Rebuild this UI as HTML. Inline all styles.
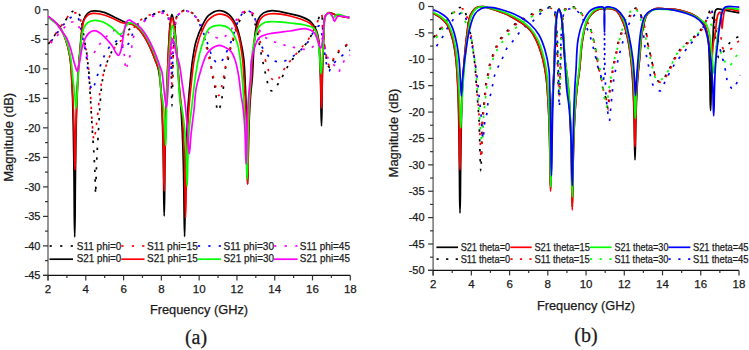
<!DOCTYPE html><html><head><meta charset="utf-8"><style>html,body{margin:0;padding:0;background:#fff;width:749px;height:350px;overflow:hidden}svg{display:block}</style></head><body><svg width="749" height="350" viewBox="0 0 749 350" font-family='"Liberation Sans", sans-serif' fill="#1a1a1a" stroke="#1a1a1a" stroke-width="0.25">
<rect width="749" height="350" fill="#fff" stroke="none"/>
<line x1="48" y1="9.8" x2="48" y2="280.4" stroke="#6a6a6a" stroke-width="1.4"/>
<line x1="43" y1="275.4" x2="350.3" y2="275.4" stroke="#111" stroke-width="1.3"/>
<line x1="43" y1="9.80" x2="48" y2="9.80" stroke="#333" stroke-width="1.2"/>
<text x="40.5" y="13.50" text-anchor="end" font-size="11">0</text>
<line x1="45" y1="24.56" x2="48" y2="24.56" stroke="#333" stroke-width="1.2"/>
<line x1="43" y1="39.31" x2="48" y2="39.31" stroke="#333" stroke-width="1.2"/>
<text x="40.5" y="43.01" text-anchor="end" font-size="11">-5</text>
<line x1="45" y1="54.07" x2="48" y2="54.07" stroke="#333" stroke-width="1.2"/>
<line x1="43" y1="68.82" x2="48" y2="68.82" stroke="#333" stroke-width="1.2"/>
<text x="40.5" y="72.52" text-anchor="end" font-size="11">-10</text>
<line x1="45" y1="83.58" x2="48" y2="83.58" stroke="#333" stroke-width="1.2"/>
<line x1="43" y1="98.33" x2="48" y2="98.33" stroke="#333" stroke-width="1.2"/>
<text x="40.5" y="102.03" text-anchor="end" font-size="11">-15</text>
<line x1="45" y1="113.09" x2="48" y2="113.09" stroke="#333" stroke-width="1.2"/>
<line x1="43" y1="127.84" x2="48" y2="127.84" stroke="#333" stroke-width="1.2"/>
<text x="40.5" y="131.54" text-anchor="end" font-size="11">-20</text>
<line x1="45" y1="142.60" x2="48" y2="142.60" stroke="#333" stroke-width="1.2"/>
<line x1="43" y1="157.36" x2="48" y2="157.36" stroke="#333" stroke-width="1.2"/>
<text x="40.5" y="161.06" text-anchor="end" font-size="11">-25</text>
<line x1="45" y1="172.11" x2="48" y2="172.11" stroke="#333" stroke-width="1.2"/>
<line x1="43" y1="186.87" x2="48" y2="186.87" stroke="#333" stroke-width="1.2"/>
<text x="40.5" y="190.57" text-anchor="end" font-size="11">-30</text>
<line x1="45" y1="201.62" x2="48" y2="201.62" stroke="#333" stroke-width="1.2"/>
<line x1="43" y1="216.38" x2="48" y2="216.38" stroke="#333" stroke-width="1.2"/>
<text x="40.5" y="220.08" text-anchor="end" font-size="11">-35</text>
<line x1="45" y1="231.13" x2="48" y2="231.13" stroke="#333" stroke-width="1.2"/>
<line x1="43" y1="245.89" x2="48" y2="245.89" stroke="#333" stroke-width="1.2"/>
<text x="40.5" y="249.59" text-anchor="end" font-size="11">-40</text>
<line x1="45" y1="260.64" x2="48" y2="260.64" stroke="#333" stroke-width="1.2"/>
<line x1="43" y1="275.40" x2="48" y2="275.40" stroke="#333" stroke-width="1.2"/>
<text x="40.5" y="279.10" text-anchor="end" font-size="11">-45</text>
<line x1="48.00" y1="275.4" x2="48.00" y2="280.4" stroke="#333" stroke-width="1.2"/>
<text x="48.00" y="292.5" text-anchor="middle" font-size="11.5">2</text>
<line x1="66.89" y1="275.4" x2="66.89" y2="277.9" stroke="#333" stroke-width="1.2"/>
<line x1="85.79" y1="275.4" x2="85.79" y2="280.4" stroke="#333" stroke-width="1.2"/>
<text x="85.79" y="292.5" text-anchor="middle" font-size="11.5">4</text>
<line x1="104.68" y1="275.4" x2="104.68" y2="277.9" stroke="#333" stroke-width="1.2"/>
<line x1="123.58" y1="275.4" x2="123.58" y2="280.4" stroke="#333" stroke-width="1.2"/>
<text x="123.58" y="292.5" text-anchor="middle" font-size="11.5">6</text>
<line x1="142.47" y1="275.4" x2="142.47" y2="277.9" stroke="#333" stroke-width="1.2"/>
<line x1="161.36" y1="275.4" x2="161.36" y2="280.4" stroke="#333" stroke-width="1.2"/>
<text x="161.36" y="292.5" text-anchor="middle" font-size="11.5">8</text>
<line x1="180.26" y1="275.4" x2="180.26" y2="277.9" stroke="#333" stroke-width="1.2"/>
<line x1="199.15" y1="275.4" x2="199.15" y2="280.4" stroke="#333" stroke-width="1.2"/>
<text x="199.15" y="292.5" text-anchor="middle" font-size="11.5">10</text>
<line x1="218.04" y1="275.4" x2="218.04" y2="277.9" stroke="#333" stroke-width="1.2"/>
<line x1="236.94" y1="275.4" x2="236.94" y2="280.4" stroke="#333" stroke-width="1.2"/>
<text x="236.94" y="292.5" text-anchor="middle" font-size="11.5">12</text>
<line x1="255.83" y1="275.4" x2="255.83" y2="277.9" stroke="#333" stroke-width="1.2"/>
<line x1="274.73" y1="275.4" x2="274.73" y2="280.4" stroke="#333" stroke-width="1.2"/>
<text x="274.73" y="292.5" text-anchor="middle" font-size="11.5">14</text>
<line x1="293.62" y1="275.4" x2="293.62" y2="277.9" stroke="#333" stroke-width="1.2"/>
<line x1="312.51" y1="275.4" x2="312.51" y2="280.4" stroke="#333" stroke-width="1.2"/>
<text x="312.51" y="292.5" text-anchor="middle" font-size="11.5">16</text>
<line x1="331.41" y1="275.4" x2="331.41" y2="277.9" stroke="#333" stroke-width="1.2"/>
<line x1="350.30" y1="275.4" x2="350.30" y2="280.4" stroke="#333" stroke-width="1.2"/>
<text x="350.30" y="292.5" text-anchor="middle" font-size="11.5">18</text>
<text transform="translate(12.7,137.3) rotate(-90)" text-anchor="middle" font-size="13">Magnitude (dB)</text>
<text x="199" y="314" text-anchor="middle" font-size="12.8">Frequency (GHz)</text>
<text x="196" y="344" text-anchor="middle" font-size="20" font-family="Liberation Serif, serif">(a)</text>
<line x1="433.1" y1="6.5" x2="433.1" y2="275.4" stroke="#6a6a6a" stroke-width="1.4"/>
<line x1="428.1" y1="270.4" x2="739" y2="270.4" stroke="#111" stroke-width="1.3"/>
<line x1="428.1" y1="6.50" x2="433.1" y2="6.50" stroke="#333" stroke-width="1.2"/>
<text x="424.6" y="10.20" text-anchor="end" font-size="11">0</text>
<line x1="430.1" y1="19.70" x2="433.1" y2="19.70" stroke="#333" stroke-width="1.2"/>
<line x1="428.1" y1="32.89" x2="433.1" y2="32.89" stroke="#333" stroke-width="1.2"/>
<text x="424.6" y="36.59" text-anchor="end" font-size="11">-5</text>
<line x1="430.1" y1="46.08" x2="433.1" y2="46.08" stroke="#333" stroke-width="1.2"/>
<line x1="428.1" y1="59.28" x2="433.1" y2="59.28" stroke="#333" stroke-width="1.2"/>
<text x="424.6" y="62.98" text-anchor="end" font-size="11">-10</text>
<line x1="430.1" y1="72.47" x2="433.1" y2="72.47" stroke="#333" stroke-width="1.2"/>
<line x1="428.1" y1="85.67" x2="433.1" y2="85.67" stroke="#333" stroke-width="1.2"/>
<text x="424.6" y="89.37" text-anchor="end" font-size="11">-15</text>
<line x1="430.1" y1="98.86" x2="433.1" y2="98.86" stroke="#333" stroke-width="1.2"/>
<line x1="428.1" y1="112.06" x2="433.1" y2="112.06" stroke="#333" stroke-width="1.2"/>
<text x="424.6" y="115.76" text-anchor="end" font-size="11">-20</text>
<line x1="430.1" y1="125.25" x2="433.1" y2="125.25" stroke="#333" stroke-width="1.2"/>
<line x1="428.1" y1="138.45" x2="433.1" y2="138.45" stroke="#333" stroke-width="1.2"/>
<text x="424.6" y="142.15" text-anchor="end" font-size="11">-25</text>
<line x1="430.1" y1="151.65" x2="433.1" y2="151.65" stroke="#333" stroke-width="1.2"/>
<line x1="428.1" y1="164.84" x2="433.1" y2="164.84" stroke="#333" stroke-width="1.2"/>
<text x="424.6" y="168.54" text-anchor="end" font-size="11">-30</text>
<line x1="430.1" y1="178.03" x2="433.1" y2="178.03" stroke="#333" stroke-width="1.2"/>
<line x1="428.1" y1="191.23" x2="433.1" y2="191.23" stroke="#333" stroke-width="1.2"/>
<text x="424.6" y="194.93" text-anchor="end" font-size="11">-35</text>
<line x1="430.1" y1="204.42" x2="433.1" y2="204.42" stroke="#333" stroke-width="1.2"/>
<line x1="428.1" y1="217.62" x2="433.1" y2="217.62" stroke="#333" stroke-width="1.2"/>
<text x="424.6" y="221.32" text-anchor="end" font-size="11">-40</text>
<line x1="430.1" y1="230.81" x2="433.1" y2="230.81" stroke="#333" stroke-width="1.2"/>
<line x1="428.1" y1="244.01" x2="433.1" y2="244.01" stroke="#333" stroke-width="1.2"/>
<text x="424.6" y="247.71" text-anchor="end" font-size="11">-45</text>
<line x1="430.1" y1="257.20" x2="433.1" y2="257.20" stroke="#333" stroke-width="1.2"/>
<line x1="428.1" y1="270.40" x2="433.1" y2="270.40" stroke="#333" stroke-width="1.2"/>
<text x="424.6" y="274.10" text-anchor="end" font-size="11">-50</text>
<line x1="433.10" y1="270.4" x2="433.10" y2="275.4" stroke="#333" stroke-width="1.2"/>
<text x="433.10" y="288" text-anchor="middle" font-size="11.5">2</text>
<line x1="452.22" y1="270.4" x2="452.22" y2="272.9" stroke="#333" stroke-width="1.2"/>
<line x1="471.34" y1="270.4" x2="471.34" y2="275.4" stroke="#333" stroke-width="1.2"/>
<text x="471.34" y="288" text-anchor="middle" font-size="11.5">4</text>
<line x1="490.46" y1="270.4" x2="490.46" y2="272.9" stroke="#333" stroke-width="1.2"/>
<line x1="509.58" y1="270.4" x2="509.58" y2="275.4" stroke="#333" stroke-width="1.2"/>
<text x="509.58" y="288" text-anchor="middle" font-size="11.5">6</text>
<line x1="528.69" y1="270.4" x2="528.69" y2="272.9" stroke="#333" stroke-width="1.2"/>
<line x1="547.81" y1="270.4" x2="547.81" y2="275.4" stroke="#333" stroke-width="1.2"/>
<text x="547.81" y="288" text-anchor="middle" font-size="11.5">8</text>
<line x1="566.93" y1="270.4" x2="566.93" y2="272.9" stroke="#333" stroke-width="1.2"/>
<line x1="586.05" y1="270.4" x2="586.05" y2="275.4" stroke="#333" stroke-width="1.2"/>
<text x="586.05" y="288" text-anchor="middle" font-size="11.5">10</text>
<line x1="605.17" y1="270.4" x2="605.17" y2="272.9" stroke="#333" stroke-width="1.2"/>
<line x1="624.29" y1="270.4" x2="624.29" y2="275.4" stroke="#333" stroke-width="1.2"/>
<text x="624.29" y="288" text-anchor="middle" font-size="11.5">12</text>
<line x1="643.41" y1="270.4" x2="643.41" y2="272.9" stroke="#333" stroke-width="1.2"/>
<line x1="662.52" y1="270.4" x2="662.52" y2="275.4" stroke="#333" stroke-width="1.2"/>
<text x="662.52" y="288" text-anchor="middle" font-size="11.5">14</text>
<line x1="681.64" y1="270.4" x2="681.64" y2="272.9" stroke="#333" stroke-width="1.2"/>
<line x1="700.76" y1="270.4" x2="700.76" y2="275.4" stroke="#333" stroke-width="1.2"/>
<text x="700.76" y="288" text-anchor="middle" font-size="11.5">16</text>
<line x1="719.88" y1="270.4" x2="719.88" y2="272.9" stroke="#333" stroke-width="1.2"/>
<line x1="739.00" y1="270.4" x2="739.00" y2="275.4" stroke="#333" stroke-width="1.2"/>
<text x="739.00" y="288" text-anchor="middle" font-size="11.5">18</text>
<text transform="translate(397.5,133) rotate(-90)" text-anchor="middle" font-size="13">Magnitude (dB)</text>
<text x="586" y="309.5" text-anchor="middle" font-size="12.8">Frequency (GHz)</text>
<text x="586" y="342" text-anchor="middle" font-size="20" font-family="Liberation Serif, serif">(b)</text>
<path d="M48.40,44.00 C50.13,41.67 51.92,39.44 53.60,37.00 C55.36,34.45 56.87,31.57 58.70,29.00 C60.53,26.44 62.75,24.11 64.60,21.60 C66.41,19.14 68.07,15.94 69.70,14.10 C70.83,12.82 71.79,11.76 73.00,11.20 C74.10,10.69 75.60,10.32 76.60,10.70 C77.61,11.08 78.32,12.29 79.00,13.50 C79.92,15.13 80.48,17.50 81.10,19.90 C81.86,22.86 82.47,26.63 83.00,30.00 C83.53,33.33 83.75,36.68 84.30,40.00 C84.85,43.34 85.78,46.63 86.30,50.00 C86.82,53.40 87.00,57.02 87.40,60.30 C87.77,63.30 88.22,65.13 88.60,68.90 C89.31,76.04 89.88,89.73 90.50,100.00 C91.11,110.09 91.69,120.46 92.30,130.00 C92.86,138.71 93.54,147.13 94.00,155.00 C94.42,162.04 94.73,168.42 95.00,175.00 C95.26,181.41 95.40,194.00 95.60,194.00 C95.80,194.00 95.97,181.41 96.20,175.00 C96.44,168.42 96.65,162.04 97.00,155.00 C97.39,147.13 98.00,138.33 98.50,130.00 C99.00,121.67 99.41,112.86 100.00,105.00 C100.53,97.96 101.11,90.67 101.80,85.00 C102.32,80.78 102.78,77.36 103.50,74.00 C104.12,71.10 104.79,68.76 105.70,66.00 C106.71,62.94 108.04,59.55 109.40,56.50 C110.71,53.55 112.06,50.69 113.70,48.00 C115.33,45.33 117.31,42.84 119.20,40.40 C121.05,38.01 122.89,35.60 124.90,33.50 C126.83,31.49 128.75,29.63 131.00,28.00 C133.34,26.31 136.03,25.31 138.70,23.60 C141.79,21.62 145.40,18.45 148.40,16.70 C150.75,15.33 152.67,14.54 155.00,13.60 C157.49,12.59 160.81,10.69 162.90,10.90 C164.37,11.05 165.52,11.79 166.50,13.00 C167.95,14.79 168.69,17.91 169.40,21.70 C170.65,28.37 170.41,38.97 170.80,50.00 C171.35,65.51 171.57,106.00 172.00,106.00 C172.41,106.00 172.68,69.47 173.30,55.00 C173.76,44.27 174.05,34.38 175.00,27.00 C175.63,22.11 175.93,17.56 177.40,14.90 C178.33,13.22 179.54,12.27 181.00,11.50 C182.57,10.68 184.69,10.06 186.60,10.30 C188.80,10.58 191.42,11.99 193.40,13.70 C195.64,15.63 197.49,18.83 199.00,21.70 C200.53,24.59 201.47,27.77 202.50,31.00 C203.58,34.39 204.33,38.28 205.30,41.60 C206.17,44.57 207.19,47.00 208.00,50.00 C208.91,53.35 209.65,56.73 210.40,60.80 C211.36,66.02 212.02,73.47 213.00,78.80 C213.79,83.11 214.89,85.96 215.60,90.40 C216.54,96.26 216.21,110.73 217.60,111.00 C218.40,111.15 219.91,107.37 220.70,105.00 C221.71,101.95 221.91,98.04 222.50,94.00 C223.22,89.08 224.02,82.60 224.60,77.60 C225.09,73.40 225.05,69.43 225.80,66.00 C226.42,63.13 227.60,61.15 228.40,58.30 C229.37,54.85 230.03,50.15 231.00,46.70 C231.80,43.85 232.77,41.60 233.60,39.00 C234.44,36.37 235.09,33.78 236.00,31.00 C237.00,27.93 238.21,24.25 239.40,21.40 C240.39,19.02 241.30,16.66 242.50,15.00 C243.43,13.71 244.49,12.56 245.60,12.00 C246.52,11.54 247.56,11.29 248.50,11.50 C249.57,11.74 250.75,12.55 251.60,13.70 C252.83,15.38 253.25,18.85 254.10,21.40 C254.95,23.94 255.93,26.02 256.70,29.00 C257.75,33.07 258.52,39.35 259.30,43.70 C259.92,47.18 260.38,49.97 261.00,53.10 C261.62,56.24 262.33,59.40 263.00,62.50 C263.66,65.53 264.32,68.43 265.00,71.50 C265.72,74.72 266.24,78.19 267.20,81.40 C268.15,84.56 269.08,89.69 270.70,90.60 C271.65,91.13 272.98,90.67 274.00,90.00 C275.50,89.01 276.78,85.92 278.00,84.00 C279.09,82.27 279.92,80.87 281.00,79.00 C282.35,76.66 283.96,73.67 285.40,71.00 C286.83,68.34 287.90,65.55 289.60,63.00 C291.37,60.34 293.90,57.80 295.90,55.40 C297.71,53.23 299.26,51.35 301.10,49.20 C303.13,46.83 305.73,44.45 307.60,41.80 C309.45,39.18 310.78,36.29 312.30,33.40 C313.88,30.40 315.64,27.15 316.90,24.10 C318.06,21.29 318.65,17.49 319.70,15.80 C320.27,14.89 321.03,13.83 321.50,14.00 C322.60,14.41 322.20,23.69 322.60,28.00 C322.94,31.70 323.25,34.53 323.70,38.30 C324.25,42.92 324.96,48.94 325.70,53.70 C326.34,57.85 326.57,62.95 327.80,65.30 C328.47,66.59 329.53,67.96 330.30,67.80 C331.48,67.56 332.20,62.50 333.40,60.10 C334.55,57.82 335.90,55.51 337.30,53.70 C338.49,52.16 339.61,51.14 341.10,49.80 C342.93,48.15 345.95,45.93 347.60,44.70 C348.58,43.97 349.20,43.57 350.00,43.00" fill="none" stroke="#000" stroke-width="1.7" stroke-dasharray="2.4 7.4" stroke-dashoffset="0"/>
<path d="M48.40,44.00 C50.13,41.67 51.92,39.44 53.60,37.00 C55.36,34.45 56.87,31.57 58.70,29.00 C60.53,26.44 62.75,24.11 64.60,21.60 C66.41,19.14 67.98,15.58 69.70,14.10 C70.79,13.16 71.82,12.61 73.00,12.50 C74.27,12.38 75.98,12.95 77.10,13.60 C78.10,14.18 78.88,14.88 79.50,16.00 C80.39,17.59 80.56,20.28 81.10,22.70 C81.73,25.54 82.46,28.92 83.00,32.00 C83.53,35.02 83.77,37.93 84.30,41.00 C84.86,44.25 85.78,47.72 86.30,51.00 C86.80,54.15 87.01,57.25 87.40,60.30 C87.78,63.25 88.21,65.32 88.60,69.00 C89.27,75.34 89.93,86.42 90.50,95.00 C91.06,103.41 91.37,112.14 92.00,120.00 C92.56,127.04 93.23,139.97 94.00,140.00 C94.60,140.02 95.37,132.29 96.00,128.00 C96.72,123.06 97.37,117.63 98.00,112.00 C98.71,105.71 99.10,98.28 100.00,92.00 C100.81,86.35 101.86,80.68 103.00,76.00 C103.91,72.25 104.91,69.23 106.00,66.00 C107.05,62.90 108.09,59.87 109.40,57.00 C110.67,54.21 112.08,51.47 113.70,49.00 C115.26,46.62 116.91,44.35 118.90,42.40 C120.90,40.44 123.60,39.25 125.70,37.30 C127.88,35.27 129.58,32.89 131.70,30.40 C134.15,27.52 136.73,23.49 139.50,21.00 C141.88,18.86 144.43,17.25 147.00,16.00 C149.37,14.85 151.75,14.33 154.30,13.60 C157.03,12.82 160.69,11.20 162.90,11.50 C164.41,11.70 165.52,12.33 166.50,13.50 C167.95,15.23 168.69,18.42 169.40,22.00 C170.53,27.74 170.40,36.28 170.80,45.00 C171.32,56.50 171.57,85.00 172.00,85.00 C172.40,85.00 172.72,60.44 173.30,50.00 C173.77,41.53 174.13,33.41 175.00,27.00 C175.64,22.33 175.90,17.53 177.40,15.00 C178.33,13.44 179.56,12.67 181.00,12.00 C182.58,11.26 184.68,10.77 186.60,11.00 C188.80,11.26 191.43,12.38 193.40,14.00 C195.66,15.85 197.50,19.07 199.00,22.00 C200.56,25.05 201.46,28.56 202.50,32.00 C203.57,35.56 204.27,38.89 205.30,43.00 C206.61,48.22 208.54,55.86 209.70,60.80 C210.52,64.30 210.94,66.46 211.70,69.80 C212.65,74.00 213.77,79.53 215.00,84.00 C216.12,88.09 217.50,95.60 218.70,95.60 C219.83,95.60 221.05,88.98 222.00,85.30 C223.06,81.18 223.81,76.12 224.60,72.00 C225.29,68.43 225.77,65.32 226.50,62.00 C227.24,58.66 228.09,55.32 229.00,52.00 C229.92,48.66 230.94,45.62 232.00,42.00 C233.25,37.73 234.75,32.27 236.00,28.00 C237.06,24.38 237.64,20.75 239.00,18.00 C240.10,15.78 241.47,13.66 243.00,12.50 C244.21,11.58 245.58,11.05 247.00,11.00 C248.57,10.95 250.61,11.36 252.00,12.50 C253.78,13.96 254.92,16.98 256.00,20.00 C257.45,24.06 258.12,30.38 259.00,35.00 C259.75,38.95 260.25,42.76 261.00,46.00 C261.61,48.61 262.24,50.53 263.00,53.00 C263.87,55.82 265.02,58.91 266.00,62.00 C267.03,65.24 267.91,68.99 269.00,72.00 C269.93,74.57 270.65,77.39 272.00,79.00 C273.03,80.22 274.55,81.53 275.70,81.40 C276.89,81.27 277.93,79.42 279.00,78.00 C280.39,76.15 281.63,73.22 283.00,71.00 C284.30,68.90 285.62,66.88 287.00,65.00 C288.30,63.23 289.58,61.74 291.00,60.00 C292.56,58.08 294.32,56.00 296.00,54.00 C297.69,52.00 299.29,50.11 301.10,48.00 C303.13,45.63 305.71,43.13 307.60,40.50 C309.43,37.96 310.78,35.27 312.30,32.50 C313.89,29.61 315.62,26.40 316.90,23.50 C318.04,20.92 318.65,17.48 319.70,16.00 C320.27,15.20 321.03,14.30 321.50,14.50 C322.63,14.97 322.21,23.81 322.60,28.00 C322.95,31.67 323.25,34.57 323.70,38.30 C324.24,42.77 324.94,48.58 325.70,53.00 C326.33,56.67 326.70,60.73 327.80,63.00 C328.48,64.41 329.51,66.11 330.30,66.00 C331.41,65.84 332.23,61.26 333.40,59.00 C334.56,56.76 335.90,54.34 337.30,52.50 C338.49,50.93 339.58,49.78 341.10,48.50 C342.91,46.98 345.94,45.16 347.60,44.20 C348.57,43.64 349.20,43.40 350.00,43.00" fill="none" stroke="#ff0000" stroke-width="1.7" stroke-dasharray="2.4 7.4" stroke-dashoffset="-2.4"/>
<path d="M48.40,45.00 C50.13,42.67 51.88,40.34 53.60,38.00 C55.31,35.67 56.84,33.46 58.70,31.00 C60.83,28.19 63.57,24.44 65.70,22.10 C67.24,20.40 68.47,19.00 70.00,18.00 C71.36,17.11 72.93,16.16 74.30,16.20 C75.59,16.24 77.08,16.93 78.00,18.00 C79.18,19.37 79.34,21.78 80.00,24.40 C81.02,28.44 81.96,35.01 83.00,40.00 C83.97,44.64 85.20,48.54 86.00,53.40 C86.94,59.07 87.24,66.49 88.00,72.00 C88.61,76.45 89.18,80.71 90.00,84.00 C90.59,86.37 91.26,89.95 92.00,90.00 C92.62,90.04 93.36,87.51 94.00,86.00 C94.78,84.14 95.46,81.94 96.20,79.60 C97.09,76.80 97.96,73.30 98.90,70.30 C99.80,67.44 100.63,64.75 101.70,62.00 C102.79,59.18 103.98,56.26 105.40,53.60 C106.79,51.00 108.48,48.17 110.10,46.20 C111.37,44.66 112.56,43.44 114.00,42.50 C115.37,41.60 117.27,40.24 118.50,40.60 C119.79,40.98 120.56,43.56 121.50,45.00 C122.39,46.36 123.20,48.99 124.00,49.00 C124.70,49.01 125.23,46.93 126.00,46.00 C126.79,45.06 127.84,44.66 128.70,43.40 C130.12,41.31 131.01,36.84 132.60,33.90 C134.13,31.06 136.02,28.23 138.00,26.00 C139.76,24.01 141.53,22.66 143.70,21.00 C146.28,19.03 149.41,16.60 152.60,15.10 C155.81,13.60 160.39,11.73 162.90,12.00 C164.45,12.17 165.52,12.81 166.50,14.00 C167.98,15.80 168.69,19.29 169.40,23.00 C170.48,28.67 170.39,37.10 170.80,45.00 C171.28,54.22 171.58,75.00 172.00,75.00 C172.42,75.00 172.70,53.72 173.30,45.00 C173.77,38.23 174.18,32.24 175.00,27.00 C175.64,22.86 176.00,18.52 177.40,16.00 C178.33,14.32 179.54,13.33 181.00,12.50 C182.57,11.61 184.68,10.79 186.60,11.00 C188.80,11.24 191.43,12.73 193.40,14.50 C195.67,16.54 197.42,20.12 199.00,23.00 C200.49,25.72 201.45,28.35 202.70,31.30 C204.11,34.63 205.48,38.05 207.00,42.00 C208.87,46.85 211.06,54.89 213.00,58.30 C214.02,60.09 214.85,61.14 216.00,62.00 C217.01,62.76 218.37,63.63 219.40,63.40 C220.56,63.14 221.57,61.35 222.50,60.00 C223.58,58.43 224.27,56.49 225.30,54.40 C226.61,51.76 228.42,48.47 229.70,45.40 C230.98,42.34 231.94,39.10 233.00,36.00 C234.04,32.97 234.97,29.90 236.00,27.00 C236.98,24.25 237.76,21.41 239.00,19.00 C240.13,16.78 241.47,14.35 243.00,13.00 C244.21,11.93 245.58,11.06 247.00,11.00 C248.56,10.94 250.62,11.67 252.00,13.00 C253.86,14.79 254.90,18.35 256.00,22.00 C257.56,27.16 257.88,36.95 259.30,41.40 C260.10,43.90 260.92,45.15 262.00,47.00 C263.16,48.99 264.56,50.90 266.10,52.90 C267.82,55.13 269.54,58.18 271.90,59.70 C274.17,61.16 277.23,62.00 279.90,62.00 C282.57,62.00 285.33,60.94 287.90,59.70 C290.69,58.36 293.38,55.95 295.90,54.00 C298.30,52.15 300.65,50.34 302.70,48.30 C304.67,46.33 306.43,44.31 308.00,42.00 C309.65,39.57 310.78,36.55 312.30,34.00 C313.76,31.56 315.35,28.22 316.90,27.00 C317.83,26.27 318.95,25.60 319.70,26.00 C321.03,26.71 321.30,31.51 322.00,35.00 C322.95,39.75 323.69,46.83 324.50,52.00 C325.18,56.35 325.66,60.53 326.50,64.00 C327.16,66.73 327.85,71.07 328.80,71.20 C329.58,71.30 330.53,68.45 331.50,67.00 C332.58,65.40 333.65,63.55 335.00,62.00 C336.40,60.40 338.05,59.10 339.80,57.60 C341.78,55.91 344.41,53.77 346.30,52.40 C347.68,51.41 348.77,50.80 350.00,50.00" fill="none" stroke="#0000ff" stroke-width="1.7" stroke-dasharray="2.4 7.4" stroke-dashoffset="-4.8"/>
<path d="M48.40,46.00 C50.13,44.00 51.88,42.00 53.60,40.00 C55.31,38.00 56.78,36.18 58.70,34.00 C61.09,31.28 64.62,26.99 66.90,25.00 C68.26,23.80 69.17,23.02 70.50,22.50 C71.84,21.98 73.70,21.50 74.90,21.90 C75.99,22.27 76.68,23.37 77.50,24.50 C78.62,26.04 79.72,28.36 80.60,30.60 C81.60,33.13 82.22,36.07 83.00,39.00 C83.85,42.18 84.60,45.92 85.50,49.00 C86.28,51.70 86.63,55.66 88.00,56.50 C88.90,57.05 90.27,56.68 91.40,56.00 C93.30,54.85 95.32,50.71 97.10,48.20 C98.73,45.89 99.90,43.68 101.70,41.50 C103.68,39.10 106.51,36.38 108.60,34.50 C110.18,33.08 111.38,31.68 113.00,31.00 C114.53,30.36 116.70,29.72 118.00,30.40 C119.46,31.16 120.19,33.71 121.00,36.00 C122.13,39.18 122.65,43.95 123.30,48.00 C123.96,52.11 124.49,56.63 124.90,60.50 C125.26,63.85 125.20,69.83 125.70,69.90 C125.99,69.94 126.42,68.09 126.80,67.00 C127.28,65.61 127.76,64.11 128.30,62.20 C129.08,59.42 130.14,55.47 130.90,51.90 C131.72,48.09 132.19,43.53 133.00,40.00 C133.66,37.11 134.03,34.43 135.20,32.20 C136.27,30.16 137.89,28.84 139.50,27.00 C141.42,24.81 143.39,21.94 146.00,20.00 C148.82,17.91 152.64,16.20 156.00,15.10 C159.11,14.08 163.24,12.64 165.40,13.40 C166.92,13.94 167.75,15.44 168.50,17.00 C169.48,19.05 169.59,21.91 170.00,25.00 C170.56,29.21 170.83,35.00 171.20,40.00 C171.57,45.00 171.85,55.00 172.20,55.00 C172.55,55.00 172.83,45.00 173.30,40.00 C173.77,35.00 174.18,29.34 175.00,25.00 C175.64,21.59 176.12,18.19 177.40,16.00 C178.34,14.39 179.54,13.33 181.00,12.50 C182.57,11.61 184.68,10.79 186.60,11.00 C188.80,11.24 191.38,12.91 193.40,14.50 C195.54,16.19 197.14,18.72 199.00,21.00 C200.97,23.41 202.77,26.24 204.90,28.60 C207.01,30.93 209.08,33.45 211.70,35.10 C214.37,36.77 218.05,38.80 220.80,38.50 C223.34,38.22 225.91,35.60 227.70,34.00 C229.12,32.73 229.94,31.63 231.00,30.00 C232.40,27.85 233.59,24.44 235.00,22.00 C236.27,19.81 237.58,17.74 239.00,16.00 C240.26,14.46 241.54,12.82 243.00,12.00 C244.24,11.30 245.61,10.91 247.00,11.00 C248.59,11.11 250.61,11.72 252.00,13.00 C253.79,14.65 254.72,18.16 256.00,21.00 C257.40,24.12 258.33,28.20 260.00,31.00 C261.42,33.39 263.12,35.42 265.00,37.00 C266.72,38.45 268.47,39.24 270.70,40.30 C273.58,41.67 277.64,43.14 281.00,44.20 C284.10,45.17 287.10,45.79 290.10,46.50 C293.00,47.19 295.72,47.95 298.70,48.40 C301.87,48.88 305.78,49.98 308.60,49.20 C311.11,48.50 313.24,46.73 315.00,44.60 C317.10,42.05 318.33,34.49 319.70,34.40 C320.54,34.34 321.28,36.44 322.00,38.00 C323.12,40.44 324.00,44.67 325.00,48.00 C326.00,51.33 326.50,55.21 328.00,58.00 C329.29,60.41 331.47,62.21 333.00,64.00 C334.26,65.48 335.54,66.64 336.50,68.00 C337.36,69.21 337.82,71.72 338.60,71.70 C339.71,71.67 341.10,66.38 342.40,64.00 C343.57,61.85 344.60,59.56 346.00,58.00 C347.19,56.68 348.67,56.00 350.00,55.00" fill="none" stroke="#ff00ff" stroke-width="1.7" stroke-dasharray="2.4 7.4" stroke-dashoffset="-3.6"/>
<path d="M48.40,17.00 C49.93,18.17 51.41,19.19 53.00,20.50 C54.83,22.01 56.91,23.27 58.70,25.60 C61.23,28.90 63.76,34.37 65.60,39.30 C67.57,44.58 68.83,49.69 69.90,56.40 C71.39,65.67 71.80,80.11 72.30,90.00 C72.69,97.81 72.74,104.00 72.92,111.00 C73.10,118.00 73.24,125.00 73.38,132.00 C73.51,139.00 73.62,146.00 73.72,153.00 C73.81,160.00 73.90,167.00 73.97,174.00 C74.04,181.00 74.10,188.00 74.16,195.00 C74.21,202.00 74.21,209.00 74.30,216.00 C74.39,223.00 74.56,237.00 74.70,237.00 C74.83,237.00 75.01,223.48 75.10,216.71 C75.19,209.95 75.18,203.19 75.24,196.43 C75.29,189.67 75.35,182.90 75.42,176.14 C75.49,169.38 75.57,162.62 75.66,155.86 C75.76,149.10 75.86,142.33 75.99,135.57 C76.11,128.81 76.25,122.05 76.42,115.29 C76.59,108.52 76.71,102.11 77.00,95.00 C77.32,87.10 77.76,77.86 78.30,70.00 C78.78,62.96 79.45,56.40 80.00,50.00 C80.51,44.10 80.84,38.28 81.50,33.00 C82.08,28.37 82.40,23.42 83.60,20.00 C84.47,17.52 85.62,15.50 87.00,14.00 C88.16,12.75 89.60,11.83 91.00,11.30 C92.28,10.82 93.37,10.76 95.00,10.80 C97.59,10.87 101.74,11.53 105.00,12.60 C108.41,13.72 111.96,16.04 115.00,17.50 C117.54,18.72 119.74,19.82 122.00,20.80 C124.06,21.70 126.07,22.59 128.00,23.20 C129.72,23.75 131.41,23.65 133.00,24.40 C134.76,25.23 136.42,26.66 138.00,28.20 C139.78,29.95 141.42,32.17 143.00,34.50 C144.77,37.11 146.49,40.26 148.00,43.20 C149.48,46.09 150.75,49.03 152.00,52.00 C153.25,54.97 154.41,58.01 155.50,61.00 C156.57,63.91 157.68,66.14 158.50,69.70 C159.73,75.00 160.43,83.43 161.00,90.00 C161.54,96.17 161.66,102.00 161.92,108.00 C162.18,114.00 162.39,120.00 162.57,126.00 C162.76,132.00 162.91,138.00 163.04,144.00 C163.17,150.00 163.28,156.00 163.37,162.00 C163.47,168.00 163.54,174.00 163.61,180.00 C163.68,186.00 163.68,192.00 163.78,198.00 C163.88,204.00 164.06,216.00 164.20,216.00 C164.34,216.00 164.52,203.52 164.61,197.29 C164.71,191.05 164.71,184.81 164.77,178.57 C164.83,172.33 164.90,166.10 164.98,159.86 C165.07,153.62 165.16,147.38 165.28,141.14 C165.39,134.90 165.52,128.67 165.68,122.43 C165.84,116.19 166.01,109.95 166.24,103.71 C166.46,97.48 166.70,92.21 167.00,85.00 C167.41,75.14 167.95,60.69 168.50,50.00 C168.96,40.97 169.22,31.57 170.00,25.00 C170.51,20.67 171.18,14.32 171.90,14.30 C172.59,14.28 173.52,19.82 174.20,24.00 C175.40,31.38 176.15,44.35 177.00,55.00 C177.90,66.31 178.63,79.83 179.40,90.00 C180.00,97.87 180.66,103.95 181.14,110.93 C181.62,117.90 181.98,124.88 182.30,131.86 C182.62,138.83 182.85,145.81 183.07,152.79 C183.28,159.76 183.44,166.74 183.58,173.71 C183.72,180.69 183.83,187.67 183.92,194.64 C184.02,201.62 184.04,208.60 184.15,215.57 C184.26,222.55 184.45,236.50 184.60,236.50 C184.75,236.50 184.94,221.62 185.06,214.19 C185.17,206.75 185.20,199.31 185.30,191.87 C185.40,184.43 185.51,176.99 185.66,169.56 C185.81,162.12 185.98,154.68 186.21,147.24 C186.45,139.80 186.70,132.36 187.06,124.93 C187.41,117.49 187.80,110.05 188.34,102.61 C188.88,95.17 189.57,87.59 190.30,80.30 C191.00,73.29 191.61,66.35 192.60,59.70 C193.54,53.40 194.30,47.26 196.00,41.40 C197.66,35.67 200.22,29.55 202.60,24.90 C204.49,21.20 205.89,17.78 208.60,15.40 C211.32,13.01 215.45,10.71 218.90,10.60 C222.29,10.49 226.30,12.35 229.10,14.60 C232.08,16.99 234.18,21.02 236.00,24.90 C238.01,29.19 239.07,34.21 240.30,39.40 C241.69,45.25 242.88,51.43 243.70,58.30 C244.67,66.41 244.92,77.50 245.30,85.00 C245.58,90.46 245.71,94.43 245.88,99.14 C246.05,103.86 246.19,108.57 246.31,113.29 C246.44,118.00 246.54,122.71 246.64,127.43 C246.73,132.14 246.81,136.86 246.88,141.57 C246.95,146.29 247.01,151.00 247.06,155.71 C247.12,160.43 247.11,165.14 247.20,169.86 C247.29,174.57 247.46,184.00 247.60,184.00 C247.74,184.00 247.93,173.91 248.04,168.86 C248.15,163.81 248.17,158.76 248.26,153.71 C248.35,148.67 248.44,143.62 248.58,138.57 C248.71,133.52 248.85,128.48 249.05,123.43 C249.24,118.38 249.45,113.33 249.74,108.29 C250.03,103.24 250.35,98.19 250.77,93.14 C251.20,88.09 251.89,83.38 252.30,78.00 C252.76,71.87 252.88,65.19 253.30,58.30 C253.76,50.69 253.97,41.38 255.00,34.30 C255.83,28.57 256.50,22.68 258.40,18.90 C259.75,16.22 261.40,14.28 263.60,12.90 C265.92,11.45 268.91,10.76 272.10,10.60 C276.13,10.40 281.21,11.94 285.90,12.90 C290.86,13.92 296.74,14.97 301.10,16.60 C304.67,17.93 307.90,19.18 310.40,21.40 C312.84,23.57 314.61,26.59 316.00,29.70 C317.49,33.04 318.21,37.06 318.80,40.90 C319.41,44.84 319.32,49.00 319.53,53.06 C319.74,57.11 319.91,61.16 320.06,65.21 C320.21,69.27 320.34,73.32 320.45,77.37 C320.56,81.42 320.65,85.48 320.73,89.53 C320.81,93.58 320.88,97.63 320.94,101.69 C321.00,105.74 321.00,109.79 321.09,113.84 C321.18,117.90 321.37,126.00 321.50,126.00 C321.64,126.00 321.81,117.33 321.90,113.00 C321.99,108.67 321.98,104.33 322.04,100.00 C322.09,95.67 322.15,91.33 322.22,87.00 C322.29,82.67 322.37,78.33 322.46,74.00 C322.56,69.67 322.66,65.33 322.79,61.00 C322.91,56.67 323.05,52.33 323.22,48.00 C323.39,43.67 323.51,39.74 323.80,35.00 C324.15,29.26 323.54,19.61 325.30,16.00 C326.20,14.15 327.36,12.94 329.00,12.60 C331.30,12.12 335.03,14.98 338.30,15.80 C341.80,16.68 345.70,17.00 349.40,17.60" fill="none" stroke="#000" stroke-width="1.7" stroke-linejoin="round"/>
<path d="M48.40,17.00 C49.93,18.17 51.42,19.17 53.00,20.50 C54.84,22.04 56.91,23.41 58.70,25.80 C61.22,29.16 63.76,34.64 65.60,39.60 C67.57,44.92 68.83,50.08 69.90,56.80 C71.37,66.01 71.74,81.81 72.30,90.00 C72.63,94.80 72.82,97.62 73.03,101.43 C73.24,105.24 73.41,109.05 73.56,112.86 C73.71,116.67 73.84,120.48 73.95,124.29 C74.06,128.09 74.15,131.90 74.23,135.71 C74.31,139.52 74.38,143.33 74.44,147.14 C74.50,150.95 74.50,154.76 74.59,158.57 C74.68,162.38 74.86,170.00 75.00,170.00 C75.13,170.00 75.31,162.86 75.40,159.29 C75.49,155.71 75.48,152.14 75.53,148.57 C75.58,145.00 75.64,141.43 75.70,137.86 C75.77,134.29 75.85,130.71 75.94,127.14 C76.03,123.57 76.13,120.00 76.25,116.43 C76.36,112.86 76.50,109.29 76.66,105.71 C76.81,102.14 76.98,99.32 77.20,95.00 C77.54,88.41 77.96,77.86 78.50,70.00 C78.98,62.96 79.65,56.40 80.20,50.00 C80.71,44.10 81.02,38.16 81.70,33.00 C82.27,28.64 82.61,24.05 83.80,21.00 C84.63,18.87 85.70,17.26 87.00,16.00 C88.15,14.88 89.61,14.02 91.00,13.60 C92.29,13.21 93.37,13.30 95.00,13.40 C97.59,13.57 101.72,14.21 105.00,15.20 C108.39,16.22 112.11,18.16 115.00,19.50 C117.27,20.56 119.05,21.83 121.00,22.50 C122.70,23.08 124.54,23.33 126.00,23.50 C127.12,23.63 127.92,23.42 129.00,23.60 C130.32,23.82 131.87,24.18 133.30,24.90 C134.98,25.74 136.73,27.08 138.30,28.60 C140.09,30.33 141.72,32.57 143.30,34.90 C145.07,37.51 146.79,40.66 148.30,43.60 C149.78,46.49 151.05,49.43 152.30,52.40 C153.55,55.37 154.71,58.41 155.80,61.40 C156.87,64.31 158.00,66.55 158.80,70.10 C159.98,75.33 160.47,83.89 161.00,90.00 C161.45,95.19 161.66,99.62 161.92,104.43 C162.18,109.24 162.39,114.05 162.57,118.86 C162.76,123.67 162.91,128.48 163.04,133.29 C163.17,138.09 163.28,142.90 163.37,147.71 C163.47,152.52 163.54,157.33 163.61,162.14 C163.68,166.95 163.68,171.76 163.78,176.57 C163.88,181.38 164.06,191.00 164.20,191.00 C164.34,191.00 164.52,180.91 164.61,175.86 C164.71,170.81 164.71,165.76 164.77,160.71 C164.83,155.67 164.90,150.62 164.98,145.57 C165.07,140.52 165.16,135.48 165.28,130.43 C165.39,125.38 165.52,120.33 165.68,115.29 C165.84,110.24 166.01,105.19 166.24,100.14 C166.46,95.09 166.72,91.09 167.00,85.00 C167.43,75.74 167.93,60.32 168.50,50.00 C168.95,41.82 169.25,33.94 170.00,28.00 C170.52,23.91 171.16,17.73 171.90,17.70 C172.58,17.67 173.52,22.36 174.20,26.00 C175.44,32.70 176.14,44.87 177.00,55.00 C177.95,66.11 178.68,80.23 179.60,90.00 C180.27,97.07 181.11,102.15 181.69,108.23 C182.26,114.30 182.68,120.38 183.05,126.46 C183.43,132.53 183.69,138.61 183.94,144.69 C184.18,150.76 184.36,156.84 184.52,162.91 C184.68,168.99 184.79,175.07 184.89,181.14 C185.00,187.22 185.02,193.30 185.14,199.37 C185.26,205.45 185.45,217.60 185.60,217.60 C185.75,217.60 185.94,205.26 186.05,199.09 C186.16,192.91 186.18,186.74 186.28,180.57 C186.37,174.40 186.48,168.23 186.62,162.06 C186.76,155.89 186.92,149.71 187.13,143.54 C187.35,137.37 187.58,131.20 187.90,125.03 C188.22,118.86 188.58,112.68 189.06,106.51 C189.54,100.34 190.07,94.82 190.80,88.00 C191.70,79.56 192.76,68.08 194.20,59.70 C195.37,52.91 196.83,46.45 198.30,41.40 C199.38,37.71 200.20,35.28 201.70,32.00 C203.48,28.11 205.53,22.73 208.60,19.70 C211.40,16.94 215.34,14.39 218.90,14.10 C222.47,13.81 227.00,15.41 230.00,18.00 C233.55,21.06 235.71,26.87 237.70,32.60 C240.21,39.81 241.37,49.39 242.50,58.30 C243.70,67.81 243.97,79.98 244.50,88.00 C244.86,93.46 245.13,97.17 245.38,101.76 C245.63,106.34 245.83,110.93 246.01,115.51 C246.19,120.10 246.33,124.69 246.46,129.27 C246.59,133.86 246.69,138.44 246.78,143.03 C246.88,147.61 246.95,152.20 247.02,156.79 C247.08,161.37 247.08,165.96 247.18,170.54 C247.28,175.13 247.46,184.30 247.60,184.30 C247.75,184.30 247.93,174.18 248.03,169.11 C248.14,164.05 248.15,158.99 248.22,153.93 C248.30,148.87 248.39,143.80 248.50,138.74 C248.61,133.68 248.74,128.62 248.90,123.56 C249.06,118.49 249.24,113.43 249.47,108.37 C249.71,103.31 249.97,98.25 250.30,93.19 C250.64,88.12 251.16,83.39 251.50,78.00 C251.88,71.86 251.77,65.29 252.40,58.30 C253.13,50.29 254.30,39.68 255.90,32.60 C257.07,27.44 258.08,22.53 260.10,19.50 C261.52,17.37 263.19,16.07 265.30,15.10 C267.69,14.00 270.58,13.73 273.90,13.70 C278.43,13.66 285.17,14.94 290.00,16.00 C294.08,16.89 297.61,18.00 301.10,19.30 C304.38,20.52 307.89,21.48 310.40,23.50 C312.81,25.43 314.62,28.11 316.00,31.00 C317.52,34.19 318.22,38.45 318.80,42.00 C319.33,45.24 319.32,48.28 319.53,51.43 C319.74,54.57 319.91,57.71 320.06,60.86 C320.21,64.00 320.34,67.14 320.45,70.29 C320.56,73.43 320.65,76.57 320.73,79.71 C320.81,82.86 320.88,86.00 320.94,89.14 C321.00,92.29 321.00,95.43 321.09,98.57 C321.18,101.71 321.37,108.00 321.50,108.00 C321.64,108.00 321.81,101.05 321.90,97.57 C321.99,94.10 321.98,90.62 322.04,87.14 C322.09,83.67 322.15,80.19 322.22,76.71 C322.29,73.24 322.37,69.76 322.46,66.29 C322.56,62.81 322.66,59.33 322.79,55.86 C322.91,52.38 323.05,48.90 323.22,45.43 C323.39,41.95 323.53,38.97 323.80,35.00 C324.16,29.71 323.58,20.08 325.30,16.50 C326.20,14.62 327.35,13.37 329.00,13.00 C331.29,12.48 335.03,15.24 338.30,16.00 C341.80,16.81 345.70,17.07 349.40,17.60" fill="none" stroke="#ff0000" stroke-width="1.7" stroke-linejoin="round"/>
<path d="M48.40,17.30 C49.93,18.53 51.39,19.62 53.00,21.00 C54.89,22.63 57.12,24.05 59.00,26.50 C61.56,29.85 64.12,35.13 66.00,40.00 C68.02,45.24 69.36,50.86 70.50,57.00 C71.81,64.04 72.22,73.15 73.00,80.00 C73.63,85.53 74.31,90.12 74.80,95.00 C75.27,99.64 75.53,108.60 75.90,108.60 C76.27,108.60 76.63,100.22 77.00,95.00 C77.50,87.93 77.91,77.86 78.50,70.00 C79.03,62.96 79.67,56.18 80.30,50.00 C80.85,44.64 81.17,39.19 82.00,35.00 C82.62,31.89 83.15,29.19 84.30,27.00 C85.26,25.17 86.38,23.59 88.00,22.50 C89.77,21.30 92.33,20.53 94.70,20.40 C97.30,20.25 100.42,21.05 103.00,22.00 C105.52,22.93 107.82,24.49 110.00,26.00 C112.15,27.49 114.21,29.47 116.00,31.00 C117.48,32.26 118.76,34.49 120.00,34.50 C121.07,34.51 122.10,33.13 123.00,32.00 C124.18,30.51 124.80,27.59 126.00,26.00 C127.00,24.68 128.11,23.25 129.40,22.90 C130.65,22.56 132.19,23.21 133.60,23.80 C135.26,24.50 137.02,25.72 138.60,27.10 C140.38,28.65 142.02,30.65 143.60,32.80 C145.38,35.22 147.09,38.20 148.60,41.00 C150.09,43.77 151.35,46.64 152.60,49.50 C153.85,52.34 155.01,55.24 156.10,58.10 C157.17,60.90 158.33,62.88 159.10,66.50 C160.40,72.64 160.18,86.00 161.00,92.00 C161.45,95.31 162.10,97.09 162.53,99.64 C162.95,102.18 163.27,104.73 163.56,107.29 C163.85,109.83 164.06,112.38 164.25,114.93 C164.45,117.47 164.59,120.02 164.72,122.57 C164.86,125.12 164.95,127.67 165.04,130.21 C165.13,132.76 165.15,135.31 165.26,137.86 C165.37,140.41 165.57,145.50 165.70,145.50 C165.87,145.50 166.02,137.36 166.12,133.29 C166.22,129.21 166.23,125.14 166.30,121.07 C166.36,117.00 166.44,112.93 166.54,108.86 C166.64,104.79 166.74,100.71 166.88,96.64 C167.02,92.57 167.17,88.50 167.36,84.43 C167.56,80.36 167.77,76.28 168.04,72.21 C168.32,68.14 168.67,64.75 169.00,60.00 C169.47,53.34 169.80,42.45 170.50,36.00 C170.97,31.61 171.45,25.06 172.20,25.00 C172.81,24.95 173.75,28.84 174.40,32.00 C175.68,38.18 176.43,49.83 177.30,60.00 C178.34,72.14 178.69,90.52 180.00,100.00 C180.73,105.31 181.88,108.20 182.58,112.31 C183.28,116.41 183.78,120.52 184.22,124.63 C184.67,128.73 184.99,132.84 185.27,136.94 C185.56,141.05 185.75,145.15 185.94,149.26 C186.12,153.36 186.24,157.47 186.36,161.57 C186.47,165.68 186.51,169.78 186.63,173.89 C186.75,177.99 186.94,186.20 187.10,186.20 C187.25,186.20 187.43,178.94 187.54,175.31 C187.65,171.69 187.66,168.06 187.74,164.43 C187.83,160.80 187.92,157.17 188.04,153.54 C188.16,149.91 188.30,146.28 188.47,142.66 C188.65,139.03 188.85,135.40 189.11,131.77 C189.37,128.14 189.66,124.51 190.04,120.89 C190.42,117.25 190.85,114.52 191.40,110.00 C192.31,102.53 193.63,89.28 194.90,80.30 C195.96,72.79 197.03,65.85 198.30,59.70 C199.34,54.65 200.59,49.70 201.70,46.00 C202.48,43.41 203.05,41.90 204.00,39.50 C205.22,36.42 206.07,31.45 208.60,29.10 C211.08,26.79 215.46,25.52 218.90,25.40 C222.29,25.28 226.27,26.08 229.10,28.30 C232.55,31.01 235.05,36.95 236.90,42.00 C238.90,47.44 239.39,53.68 240.30,60.00 C241.30,66.95 241.84,74.09 242.50,82.00 C243.27,91.22 244.00,104.77 244.50,112.00 C244.78,116.09 244.99,118.41 245.19,121.61 C245.39,124.82 245.55,128.02 245.70,131.23 C245.84,134.43 245.96,137.64 246.07,140.84 C246.18,144.05 246.26,147.25 246.34,150.46 C246.42,153.66 246.49,156.87 246.54,160.07 C246.60,163.28 246.60,166.48 246.69,169.69 C246.78,172.89 246.97,179.30 247.10,179.30 C247.25,179.30 247.43,169.84 247.53,165.11 C247.63,160.39 247.63,155.66 247.71,150.93 C247.78,146.20 247.86,141.47 247.96,136.74 C248.06,132.01 248.18,127.29 248.32,122.56 C248.47,117.83 248.63,113.10 248.83,108.37 C249.04,103.64 249.27,98.91 249.56,94.19 C249.86,89.46 250.29,85.23 250.60,80.00 C250.98,73.53 250.85,65.42 251.60,58.30 C252.33,51.32 253.61,43.34 255.00,37.70 C256.00,33.63 256.50,30.03 258.40,27.40 C260.09,25.06 262.50,23.27 265.30,22.30 C268.61,21.15 273.25,21.79 277.30,21.90 C281.48,22.01 285.60,22.51 290.00,23.00 C294.77,23.53 300.58,23.90 304.90,25.00 C308.39,25.89 312.00,26.36 314.10,28.50 C316.23,30.67 316.64,34.32 317.50,38.00 C318.62,42.79 318.93,49.17 319.50,55.00 C320.10,61.15 320.48,74.00 321.00,74.00 C321.52,74.00 322.13,61.77 322.60,55.00 C323.14,47.24 323.46,36.98 324.00,30.00 C324.39,24.96 323.97,19.95 325.30,17.00 C326.16,15.09 327.69,13.03 329.00,13.00 C330.44,12.97 332.17,17.57 333.60,17.60 C334.80,17.63 335.36,14.91 337.00,14.50 C339.73,13.81 345.27,16.57 349.40,17.60" fill="none" stroke="#00ff00" stroke-width="1.7" stroke-linejoin="round"/>
<path d="M48.40,16.50 C50.70,18.37 53.24,19.92 55.30,22.10 C57.46,24.39 59.07,27.24 61.00,30.00 C63.07,32.96 65.63,35.97 67.30,39.30 C68.97,42.64 69.95,46.47 71.00,50.00 C72.00,53.37 72.69,56.97 73.50,60.00 C74.18,62.55 74.80,64.94 75.50,67.00 C76.07,68.68 76.82,71.52 77.30,71.50 C77.72,71.48 77.95,69.41 78.30,68.00 C78.83,65.88 79.44,62.94 80.00,60.00 C80.68,56.41 81.09,51.68 82.00,48.00 C82.81,44.75 83.72,41.62 85.00,39.00 C86.12,36.71 87.33,34.40 89.00,33.00 C90.50,31.75 92.50,30.72 94.30,30.70 C96.16,30.68 98.04,31.72 100.00,33.00 C102.74,34.79 106.28,38.81 108.60,41.40 C110.39,43.39 111.75,45.03 113.00,47.00 C114.21,48.91 114.90,51.50 116.00,53.00 C116.81,54.10 117.84,55.65 118.60,55.50 C119.58,55.30 120.31,52.34 121.00,50.00 C122.10,46.28 122.66,39.61 123.50,35.00 C124.23,31.04 124.78,26.57 125.70,24.00 C126.24,22.49 126.71,21.21 127.50,20.60 C128.09,20.14 128.90,20.00 129.60,20.10 C130.40,20.22 131.24,21.03 132.00,21.50 C132.70,21.93 133.18,22.27 134.00,22.80 C135.29,23.65 137.42,24.71 139.00,26.10 C140.78,27.67 142.42,29.73 144.00,31.90 C145.77,34.33 147.48,37.33 149.00,40.10 C150.48,42.80 151.75,45.52 153.00,48.30 C154.25,51.09 155.40,53.98 156.50,56.80 C157.57,59.55 158.56,62.32 159.50,65.00 C160.39,67.55 161.36,69.65 162.00,72.50 C162.81,76.10 162.91,80.22 163.50,85.00 C164.30,91.45 165.59,107.72 166.40,107.70 C167.29,107.68 167.89,89.00 168.50,80.00 C169.08,71.46 169.39,61.98 170.00,55.00 C170.44,49.96 170.89,44.82 171.50,42.00 C171.81,40.59 172.09,38.93 172.50,38.90 C172.92,38.87 173.53,40.57 174.00,42.00 C174.93,44.81 175.52,51.09 176.50,55.00 C177.33,58.30 178.49,60.45 179.30,64.00 C180.43,68.94 181.09,75.77 182.00,82.00 C182.99,88.73 184.12,95.55 185.00,103.00 C185.99,111.42 186.77,121.26 187.50,130.00 C188.19,138.23 188.68,154.00 189.30,154.00 C189.85,154.00 190.36,141.15 191.00,135.00 C191.60,129.17 192.42,122.92 193.00,118.00 C193.45,114.23 193.78,111.85 194.20,108.00 C194.77,102.76 194.94,95.54 196.00,89.40 C197.07,83.21 199.19,76.03 200.60,71.00 C201.59,67.45 202.39,64.79 203.40,62.00 C204.31,59.50 205.13,57.07 206.30,55.00 C207.36,53.12 208.28,51.46 210.00,50.00 C212.18,48.14 216.30,45.67 218.90,45.40 C220.79,45.20 222.24,46.00 224.00,46.80 C226.20,47.81 229.08,49.32 230.90,51.40 C232.85,53.64 233.92,56.66 235.10,60.00 C236.59,64.24 237.56,69.62 238.50,75.00 C239.58,81.16 240.19,89.50 241.00,95.00 C241.58,98.88 242.23,101.59 242.70,104.90 C243.17,108.19 243.52,111.50 243.83,114.80 C244.14,118.10 244.38,121.40 244.59,124.70 C244.80,128.00 244.95,131.30 245.09,134.60 C245.23,137.90 245.33,141.20 245.43,144.50 C245.52,147.80 245.54,151.10 245.65,154.40 C245.76,157.70 245.96,164.30 246.10,164.30 C246.26,164.30 246.43,156.27 246.54,152.26 C246.64,148.24 246.66,144.23 246.74,140.21 C246.82,136.20 246.91,132.19 247.03,128.17 C247.15,124.16 247.28,120.14 247.46,116.13 C247.63,112.11 247.82,108.10 248.08,104.09 C248.33,100.07 248.61,96.05 248.98,92.04 C249.35,88.03 249.91,84.53 250.30,80.00 C250.81,74.18 250.67,66.00 251.60,60.00 C252.38,54.96 253.54,50.27 255.00,46.30 C256.21,43.03 257.19,39.71 259.30,37.70 C261.27,35.82 263.66,35.26 267.00,34.30 C272.54,32.71 282.94,31.97 290.00,31.00 C296.01,30.17 302.34,28.07 306.70,28.80 C309.76,29.31 312.30,30.63 314.10,32.50 C315.90,34.37 316.57,37.62 317.50,40.00 C318.32,42.09 318.75,44.58 319.50,46.00 C319.97,46.89 320.57,48.10 321.00,48.00 C321.77,47.83 322.15,43.10 322.60,40.00 C323.22,35.79 323.48,29.36 324.00,25.00 C324.40,21.61 324.13,18.06 325.30,16.00 C326.15,14.51 327.83,12.99 329.00,13.00 C330.06,13.01 331.14,14.36 332.00,15.50 C333.10,16.96 333.71,21.36 334.60,21.40 C335.38,21.43 335.94,17.88 337.00,17.00 C337.84,16.30 338.71,16.10 340.00,16.00 C342.25,15.83 346.27,17.07 349.40,17.60" fill="none" stroke="#ff00ff" stroke-width="1.7" stroke-linejoin="round"/>
<path d="M433.50,37.50 C435.20,35.33 436.94,33.27 438.60,31.00 C440.34,28.62 441.88,25.97 443.70,23.50 C445.57,20.96 447.99,18.10 449.70,16.00 C450.96,14.45 451.82,13.19 453.00,12.00 C454.12,10.87 455.36,9.77 456.60,9.00 C457.70,8.32 458.89,7.59 460.00,7.50 C461.02,7.42 462.09,7.53 463.00,8.30 C464.59,9.66 465.89,14.00 466.90,17.10 C467.95,20.35 468.39,24.04 469.10,27.40 C469.78,30.63 470.49,33.47 471.10,36.90 C471.81,40.91 472.38,45.41 473.00,50.00 C473.68,55.06 474.45,60.36 475.00,66.00 C475.61,72.29 475.90,79.33 476.40,86.00 C476.90,92.67 477.54,99.93 478.00,106.00 C478.38,111.08 478.67,113.87 479.00,120.00 C479.62,131.69 480.23,171.00 480.80,171.00 C481.37,171.00 481.62,132.44 482.40,120.00 C482.85,112.81 483.52,107.92 484.00,103.00 C484.37,99.23 484.67,96.33 485.00,93.00 C485.33,89.67 485.50,86.32 486.00,83.00 C486.50,79.65 487.33,76.33 488.00,73.00 C488.67,69.67 489.08,66.30 490.00,63.00 C490.94,59.63 492.50,55.90 493.60,53.00 C494.46,50.74 494.97,49.17 496.00,47.00 C497.30,44.27 499.02,40.81 501.00,38.00 C503.01,35.14 505.58,32.40 508.00,30.00 C510.26,27.77 512.62,25.86 515.00,24.00 C517.29,22.20 519.53,20.49 522.00,19.00 C524.52,17.48 527.33,16.33 530.00,15.00 C532.67,13.67 535.31,12.24 538.00,11.00 C540.65,9.78 543.76,8.23 546.00,7.60 C547.53,7.17 548.76,6.59 550.00,7.00 C551.47,7.48 553.08,9.21 554.00,11.00 C555.17,13.27 555.08,16.11 555.50,20.00 C556.26,27.06 556.48,38.99 557.00,50.00 C557.64,63.48 558.33,95.00 559.00,95.00 C559.67,95.00 560.37,63.72 561.00,50.00 C561.53,38.43 561.32,25.35 562.50,18.00 C563.14,14.03 563.52,10.80 565.00,9.00 C566.02,7.76 567.49,7.29 569.00,7.00 C570.76,6.66 573.32,6.86 575.00,7.50 C576.48,8.07 577.41,9.07 578.70,10.30 C580.49,12.00 582.70,14.66 584.40,17.10 C586.14,19.59 587.70,22.19 589.00,25.10 C590.41,28.25 591.45,31.94 592.40,35.40 C593.34,38.81 594.01,42.42 594.70,45.70 C595.33,48.69 595.89,51.22 596.40,54.30 C596.98,57.82 597.15,62.05 597.90,65.70 C598.61,69.17 599.99,72.47 600.70,75.70 C601.35,78.66 601.59,81.58 602.10,84.30 C602.56,86.79 602.94,88.94 603.60,91.40 C604.34,94.15 605.68,97.11 606.40,100.00 C607.11,102.84 607.46,108.62 607.90,108.60 C608.48,108.58 608.75,97.96 609.30,93.00 C609.80,88.46 610.47,83.68 611.00,80.00 C611.39,77.28 611.69,75.38 612.10,72.90 C612.55,70.17 612.98,67.45 613.60,64.30 C614.36,60.43 615.64,55.26 616.40,51.40 C617.01,48.28 617.20,45.72 617.90,42.90 C618.62,40.02 619.65,37.21 620.70,34.30 C621.80,31.24 622.91,28.10 624.40,25.00 C626.00,21.67 628.05,17.96 630.10,15.00 C631.92,12.37 634.14,8.00 635.90,8.00 C637.39,8.00 638.88,10.97 640.00,13.00 C641.36,15.46 642.02,18.91 643.00,22.00 C644.03,25.24 645.19,28.42 646.00,32.00 C646.91,36.02 647.13,40.61 648.00,45.00 C648.91,49.58 650.42,54.49 651.40,58.90 C652.29,62.88 652.73,66.62 653.70,70.30 C654.64,73.85 655.23,79.25 657.10,80.60 C658.32,81.48 660.22,81.39 661.70,80.60 C664.14,79.30 666.34,74.19 668.60,70.30 C671.32,65.63 673.99,58.49 676.60,54.30 C678.46,51.32 680.07,49.27 682.10,47.10 C684.08,44.98 686.57,43.16 688.60,41.40 C690.37,39.86 692.10,38.49 693.60,37.10 C694.90,35.90 695.85,34.93 697.10,33.60 C698.64,31.95 700.55,30.13 702.10,27.90 C703.93,25.26 705.71,21.64 707.10,18.60 C708.36,15.85 709.24,10.46 710.20,10.50 C711.22,10.54 712.17,16.14 713.00,20.00 C714.24,25.78 714.91,35.27 716.00,42.00 C716.93,47.74 717.32,57.52 719.00,57.90 C720.13,58.15 721.79,54.15 723.30,52.00 C725.09,49.46 726.79,45.99 729.00,43.60 C731.09,41.33 734.02,39.22 736.10,37.90 C737.54,36.99 738.70,36.63 740.00,36.00" fill="none" stroke="#000" stroke-width="1.7" stroke-dasharray="2.4 7.4" stroke-dashoffset="0"/>
<path d="M433.90,38.50 C435.60,36.33 437.34,34.27 439.00,32.00 C440.74,29.62 442.28,26.97 444.10,24.50 C445.97,21.96 448.39,19.10 450.10,17.00 C451.36,15.45 452.22,14.19 453.40,13.00 C454.52,11.87 455.76,10.77 457.00,10.00 C458.10,9.32 459.29,8.59 460.40,8.50 C461.42,8.42 462.49,8.53 463.40,9.30 C464.99,10.66 466.29,15.00 467.30,18.10 C468.35,21.35 468.79,25.04 469.50,28.40 C470.18,31.63 470.89,34.47 471.50,37.90 C472.21,41.91 472.78,46.41 473.40,51.00 C474.08,56.06 474.85,61.36 475.40,67.00 C476.01,73.29 476.30,80.33 476.80,87.00 C477.30,93.67 477.94,100.93 478.40,107.00 C478.78,112.08 479.05,115.22 479.40,121.00 C479.96,130.39 480.63,158.00 481.20,158.00 C481.77,158.00 482.12,130.96 482.80,121.00 C483.26,114.24 483.92,108.92 484.40,104.00 C484.77,100.23 485.07,97.33 485.40,94.00 C485.73,90.67 485.90,87.32 486.40,84.00 C486.90,80.65 487.73,77.33 488.40,74.00 C489.07,70.67 489.48,67.30 490.40,64.00 C491.34,60.63 492.90,56.90 494.00,54.00 C494.86,51.74 495.37,50.17 496.40,48.00 C497.70,45.27 499.42,41.81 501.40,39.00 C503.41,36.14 505.98,33.40 508.40,31.00 C510.66,28.77 513.02,26.86 515.40,25.00 C517.69,23.20 519.93,21.49 522.40,20.00 C524.92,18.48 527.73,17.33 530.40,16.00 C533.07,14.67 535.71,13.24 538.40,12.00 C541.05,10.78 544.16,9.23 546.40,8.60 C547.93,8.17 549.16,7.59 550.40,8.00 C551.87,8.48 553.48,10.21 554.40,12.00 C555.57,14.27 555.48,17.11 555.90,21.00 C556.66,28.06 556.88,39.99 557.40,51.00 C558.04,64.48 558.73,96.00 559.40,96.00 C560.07,96.00 560.77,64.72 561.40,51.00 C561.93,39.43 561.72,26.35 562.90,19.00 C563.54,15.03 563.92,11.80 565.40,10.00 C566.42,8.76 567.89,8.29 569.40,8.00 C571.16,7.66 573.72,7.86 575.40,8.50 C576.88,9.07 577.81,10.07 579.10,11.30 C580.89,13.00 583.10,15.66 584.80,18.10 C586.54,20.59 588.10,23.19 589.40,26.10 C590.81,29.25 591.85,32.94 592.80,36.40 C593.74,39.81 594.41,43.42 595.10,46.70 C595.73,49.69 596.29,52.22 596.80,55.30 C597.38,58.82 597.55,63.05 598.30,66.70 C599.01,70.17 600.39,73.47 601.10,76.70 C601.75,79.66 601.99,82.58 602.50,85.30 C602.96,87.79 603.34,89.94 604.00,92.40 C604.74,95.15 606.08,98.11 606.80,101.00 C607.51,103.84 607.86,109.62 608.30,109.60 C608.88,109.58 609.15,98.96 609.70,94.00 C610.20,89.46 610.87,84.68 611.40,81.00 C611.79,78.28 612.09,76.38 612.50,73.90 C612.95,71.17 613.38,68.45 614.00,65.30 C614.76,61.43 616.04,56.26 616.80,52.40 C617.41,49.28 617.60,46.72 618.30,43.90 C619.02,41.02 620.05,38.21 621.10,35.30 C622.20,32.24 623.31,29.10 624.80,26.00 C626.40,22.67 628.45,18.96 630.50,16.00 C632.32,13.37 634.54,9.00 636.30,9.00 C637.79,9.00 639.28,11.97 640.40,14.00 C641.76,16.46 642.42,19.91 643.40,23.00 C644.43,26.24 645.59,29.42 646.40,33.00 C647.31,37.02 647.53,41.61 648.40,46.00 C649.31,50.58 650.82,55.49 651.80,59.90 C652.69,63.88 653.13,67.62 654.10,71.30 C655.04,74.85 655.63,80.25 657.50,81.60 C658.72,82.48 660.62,82.39 662.10,81.60 C664.54,80.30 666.74,75.19 669.00,71.30 C671.72,66.63 674.39,59.49 677.00,55.30 C678.86,52.32 680.47,50.27 682.50,48.10 C684.48,45.98 686.97,44.16 689.00,42.40 C690.77,40.86 692.50,39.49 694.00,38.10 C695.30,36.90 696.25,35.93 697.50,34.60 C699.04,32.95 700.98,31.24 702.50,28.90 C704.43,25.94 705.80,20.92 707.60,17.90 C709.00,15.54 710.79,11.83 712.00,12.00 C713.30,12.18 713.87,16.91 715.00,20.00 C716.55,24.22 718.89,29.96 720.40,35.00 C721.88,39.96 721.52,48.26 724.00,50.00 C725.60,51.13 728.37,50.28 730.40,49.30 C732.96,48.07 735.82,43.76 737.60,42.10 C738.59,41.17 739.20,40.70 740.00,40.00" fill="none" stroke="#ff0000" stroke-width="1.7" stroke-dasharray="2.4 7.4" stroke-dashoffset="-2.4"/>
<path d="M433.50,42.00 C435.20,39.43 436.81,36.93 438.60,34.30 C440.50,31.50 442.69,28.60 444.60,25.70 C446.49,22.83 448.26,19.46 450.00,17.00 C451.37,15.06 452.50,13.09 454.00,12.00 C455.22,11.11 456.73,10.36 458.00,10.50 C459.29,10.64 460.62,11.61 461.70,12.90 C463.31,14.83 464.21,18.99 465.50,22.00 C466.78,24.99 468.33,27.79 469.40,30.90 C470.51,34.14 471.27,37.42 472.00,41.10 C472.85,45.35 473.36,50.13 474.00,55.00 C474.70,60.38 475.42,66.10 476.00,72.00 C476.63,78.39 477.09,85.51 477.60,92.00 C478.09,98.16 478.41,103.15 479.00,110.00 C479.78,119.15 481.16,142.01 482.00,142.00 C482.81,141.99 483.21,120.58 484.00,112.00 C484.60,105.53 485.38,100.29 486.00,95.00 C486.54,90.38 486.86,86.04 487.50,82.00 C488.06,78.44 488.75,75.32 489.50,72.00 C490.25,68.66 491.03,65.12 492.00,62.00 C492.89,59.16 493.75,56.70 495.00,54.00 C496.37,51.04 497.87,48.11 500.00,45.00 C502.63,41.17 506.72,36.36 510.00,33.00 C512.70,30.23 515.29,28.20 518.00,26.00 C520.63,23.87 523.37,21.73 526.00,20.00 C528.36,18.45 530.60,17.43 533.00,16.00 C535.59,14.45 538.37,12.38 541.00,11.00 C543.36,9.76 545.95,8.42 548.00,8.00 C549.48,7.70 550.82,7.46 552.00,8.00 C553.36,8.62 554.72,10.21 555.50,12.00 C556.57,14.46 556.18,17.82 556.50,22.00 C557.04,28.98 557.55,39.56 558.00,50.00 C558.57,63.23 559.00,95.00 559.50,95.00 C560.00,95.00 560.44,63.48 561.00,50.00 C561.46,38.99 561.42,27.28 562.50,20.00 C563.13,15.73 563.45,11.93 565.00,10.00 C566.02,8.73 567.43,8.31 569.00,8.00 C570.96,7.61 574.10,7.71 576.00,8.50 C577.66,9.19 578.68,10.54 580.00,12.00 C581.68,13.86 583.44,16.54 585.00,19.00 C586.61,21.54 588.22,24.05 589.50,27.00 C590.94,30.31 591.98,34.40 593.00,38.00 C593.96,41.40 594.73,44.75 595.50,48.00 C596.23,51.07 596.83,54.00 597.50,57.00 C598.17,60.00 598.89,62.84 599.50,66.00 C600.17,69.47 600.70,72.99 601.30,77.00 C602.03,81.83 602.60,87.86 603.50,93.00 C604.35,97.84 605.67,107.03 606.50,107.00 C607.35,106.97 607.79,96.72 608.50,92.00 C609.13,87.77 609.80,84.22 610.50,80.00 C611.29,75.28 611.92,69.97 613.00,65.00 C614.09,59.97 615.45,55.73 617.00,50.00 C619.08,42.29 621.89,29.46 624.40,22.90 C625.92,18.93 627.31,16.32 629.00,13.70 C630.42,11.49 632.02,8.12 633.60,8.00 C635.03,7.89 636.79,10.17 638.00,12.00 C639.62,14.45 640.42,18.57 641.50,22.00 C642.62,25.56 643.63,29.17 644.60,33.00 C645.64,37.14 646.52,41.67 647.50,46.00 C648.48,50.34 649.55,54.85 650.50,59.00 C651.37,62.82 652.03,66.54 653.00,70.00 C653.89,73.17 654.62,77.19 656.00,79.00 C656.85,80.12 658.00,81.00 659.00,81.00 C660.00,81.00 660.90,80.03 662.00,79.00 C663.91,77.20 666.45,73.76 668.60,70.30 C671.35,65.88 673.92,58.29 676.60,54.30 C678.43,51.57 680.13,50.02 682.10,48.00 C684.12,45.92 686.56,43.80 688.60,42.00 C690.36,40.45 692.11,39.17 693.60,37.80 C694.90,36.61 695.86,35.64 697.10,34.30 C698.65,32.63 700.62,30.33 702.10,28.50 C703.37,26.93 704.30,25.13 705.50,24.00 C706.46,23.10 707.52,21.87 708.50,22.00 C709.69,22.16 710.95,24.17 712.00,26.00 C713.62,28.82 714.52,33.66 716.00,38.00 C717.76,43.18 719.52,50.01 721.90,55.00 C723.96,59.31 726.73,66.36 729.00,66.40 C730.98,66.43 732.74,60.41 734.70,57.90 C736.42,55.69 738.23,53.97 740.00,52.00" fill="none" stroke="#00ff00" stroke-width="1.7" stroke-dasharray="2.4 7.4" stroke-dashoffset="-4.8"/>
<path d="M433.50,51.40 C435.20,48.57 436.87,45.66 438.60,42.90 C440.27,40.23 442.13,37.76 443.70,35.10 C445.26,32.46 446.42,29.58 448.00,27.00 C449.56,24.45 451.31,21.79 453.10,19.70 C454.66,17.87 456.29,16.16 458.00,15.00 C459.48,14.00 461.27,12.43 462.60,12.90 C464.42,13.54 465.77,18.34 466.90,21.40 C468.11,24.67 468.72,28.51 469.50,32.00 C470.25,35.37 470.90,38.88 471.50,42.00 C472.02,44.73 472.39,46.83 472.90,49.70 C473.54,53.32 474.30,57.50 475.00,62.00 C475.84,67.42 476.76,73.83 477.50,80.00 C478.27,86.48 478.83,93.33 479.50,100.00 C480.17,106.67 480.91,113.42 481.50,120.00 C482.07,126.41 482.42,138.99 483.00,139.00 C483.58,139.01 484.08,124.75 485.00,120.00 C485.57,117.07 486.51,115.56 487.00,113.00 C487.58,109.99 487.35,106.30 488.00,103.00 C488.67,99.63 490.16,96.35 491.00,93.00 C491.83,89.69 492.32,86.24 493.00,83.00 C493.65,79.92 494.03,76.95 495.00,74.00 C496.01,70.95 497.63,67.90 499.00,65.00 C500.30,62.24 501.70,59.76 503.00,57.00 C504.37,54.10 505.29,50.70 507.00,48.00 C508.65,45.39 511.04,43.44 513.00,41.00 C515.04,38.45 516.83,35.51 519.00,33.00 C521.16,30.51 523.58,28.05 526.00,26.00 C528.26,24.09 530.74,22.91 533.00,21.00 C535.42,18.95 537.51,16.16 540.00,14.00 C542.51,11.83 545.68,8.90 548.00,8.00 C549.47,7.43 550.88,7.08 552.00,7.60 C553.29,8.20 554.27,10.03 555.00,12.00 C556.15,15.09 556.07,19.61 556.50,25.00 C557.20,33.83 557.56,47.47 558.00,60.00 C558.51,74.51 558.88,107.00 559.30,107.00 C559.72,107.00 560.00,74.51 560.50,60.00 C560.93,47.47 560.85,34.00 562.00,25.00 C562.73,19.24 563.11,13.44 565.00,11.00 C566.06,9.64 567.44,9.25 569.00,9.00 C570.97,8.68 574.03,8.90 576.00,10.00 C578.07,11.15 579.46,13.64 581.00,16.00 C582.85,18.82 584.49,22.63 586.00,26.00 C587.48,29.30 588.90,32.76 590.00,36.00 C591.00,38.95 591.59,41.67 592.40,44.60 C593.25,47.66 594.24,50.80 595.00,54.00 C595.78,57.27 596.12,60.67 597.00,64.00 C597.91,67.44 599.34,71.12 600.40,74.30 C601.32,77.05 602.40,82.07 603.00,82.00 C603.73,81.91 603.75,75.13 604.00,70.00 C604.44,60.89 604.33,32.00 604.50,32.00 C604.67,32.00 604.70,58.66 605.00,70.00 C605.24,79.20 605.49,87.73 606.00,95.00 C606.39,100.64 606.89,105.40 607.50,110.00 C608.02,113.96 608.76,121.02 609.30,121.00 C609.95,120.98 610.35,111.03 611.00,105.00 C611.85,97.17 612.70,85.84 614.00,78.00 C615.02,71.85 616.29,67.19 617.60,61.70 C618.95,56.06 620.54,49.72 622.00,44.60 C623.21,40.37 624.16,37.07 625.60,33.10 C627.20,28.70 629.19,22.80 631.30,19.40 C632.77,17.04 634.40,14.82 636.00,14.00 C637.09,13.44 638.39,13.16 639.30,13.70 C640.60,14.48 641.25,17.13 642.00,20.00 C643.43,25.50 643.40,36.87 644.60,45.00 C645.76,52.85 647.39,60.79 649.00,68.00 C650.45,74.47 650.99,82.48 653.70,86.30 C655.50,88.83 658.76,91.41 660.60,90.90 C662.64,90.34 663.21,85.21 665.00,81.70 C667.48,76.85 670.80,69.94 674.30,64.60 C677.72,59.39 682.54,53.99 685.70,50.00 C687.91,47.20 689.43,45.32 691.40,42.90 C693.49,40.33 695.87,37.74 697.90,35.00 C699.94,32.24 701.92,29.40 703.60,26.40 C705.29,23.40 706.59,19.80 708.00,17.00 C709.17,14.67 710.39,10.57 711.40,10.70 C712.85,10.88 713.83,19.82 715.00,25.00 C716.38,31.09 717.56,38.83 719.00,45.00 C720.25,50.38 721.79,55.11 723.00,60.00 C724.15,64.63 725.29,69.60 726.10,73.60 C726.74,76.73 726.45,79.43 727.60,82.00 C728.80,84.68 731.64,89.47 733.30,89.30 C734.99,89.13 736.41,83.29 737.60,80.70 C738.56,78.62 739.20,76.90 740.00,75.00" fill="none" stroke="#0000ff" stroke-width="1.7" stroke-dasharray="2.4 7.4" stroke-dashoffset="-6"/>
<path d="M433.50,13.50 C435.77,14.87 438.14,15.89 440.30,17.60 C442.69,19.49 445.22,21.58 447.10,24.50 C449.40,28.07 450.91,33.07 452.30,38.00 C453.89,43.64 454.81,49.47 455.70,56.60 C456.89,66.09 457.55,80.64 458.00,90.00 C458.33,96.79 458.34,101.71 458.47,107.57 C458.61,113.43 458.73,119.29 458.84,125.14 C458.94,131.00 459.03,136.86 459.11,142.71 C459.19,148.57 459.26,154.43 459.32,160.29 C459.39,166.14 459.44,172.00 459.48,177.86 C459.53,183.71 459.52,189.57 459.61,195.43 C459.69,201.29 459.87,213.00 460.00,213.00 C460.13,213.00 460.31,201.29 460.40,195.43 C460.49,189.57 460.48,183.71 460.54,177.86 C460.59,172.00 460.65,166.14 460.72,160.29 C460.79,154.43 460.87,148.57 460.96,142.71 C461.06,136.86 461.16,131.00 461.29,125.14 C461.41,119.29 461.55,113.43 461.72,107.57 C461.89,101.71 461.97,96.63 462.30,90.00 C462.73,81.33 463.49,69.61 464.30,60.00 C465.05,51.10 465.79,42.19 466.90,34.30 C467.85,27.50 468.19,20.12 470.30,15.40 C471.80,12.03 473.92,9.11 476.30,7.70 C478.30,6.52 480.84,6.49 483.10,6.60 C485.40,6.71 487.24,7.56 490.00,8.40 C494.25,9.70 500.94,11.69 506.00,14.00 C510.93,16.25 515.82,19.16 520.00,22.00 C523.72,24.53 527.20,26.76 530.00,30.00 C532.91,33.38 534.95,37.48 537.00,42.00 C539.39,47.29 541.48,54.13 543.00,60.00 C544.41,65.44 545.25,70.64 546.00,76.00 C546.75,81.35 547.07,86.76 547.49,92.14 C547.90,97.52 548.21,102.90 548.49,108.29 C548.77,113.67 548.98,119.05 549.17,124.43 C549.36,129.81 549.50,135.19 549.63,140.57 C549.76,145.95 549.86,151.33 549.95,156.71 C550.03,162.10 550.05,167.48 550.16,172.86 C550.27,178.24 550.46,189.00 550.60,189.00 C550.75,189.00 550.92,177.67 551.02,172.00 C551.12,166.33 551.13,160.67 551.20,155.00 C551.27,149.33 551.35,143.67 551.45,138.00 C551.55,132.33 551.66,126.67 551.80,121.00 C551.94,115.33 552.10,109.67 552.30,104.00 C552.50,98.33 552.72,92.67 553.00,87.00 C553.29,81.33 553.70,76.47 554.00,70.00 C554.39,61.41 554.53,49.44 555.00,40.00 C555.42,31.55 555.48,21.56 556.60,16.00 C557.22,12.92 558.20,9.00 559.00,9.00 C559.80,9.00 560.77,13.23 561.40,16.00 C562.26,19.83 562.50,24.45 563.00,30.00 C563.73,38.11 564.12,50.90 565.00,60.00 C565.74,67.63 566.94,73.99 567.67,81.00 C568.40,87.99 568.91,95.00 569.37,102.00 C569.83,109.00 570.15,116.00 570.44,123.00 C570.73,130.00 570.94,137.00 571.12,144.00 C571.31,151.00 571.44,158.00 571.55,165.00 C571.67,172.00 571.70,179.00 571.83,186.00 C571.95,193.00 572.14,207.00 572.30,207.00 C572.45,207.00 572.65,193.95 572.77,187.43 C572.90,180.91 572.93,174.38 573.04,167.86 C573.16,161.33 573.29,154.81 573.47,148.29 C573.65,141.76 573.86,135.24 574.14,128.71 C574.43,122.19 574.75,115.66 575.20,109.14 C575.66,102.62 576.16,96.09 576.87,89.57 C577.59,83.04 578.65,77.23 579.50,70.00 C580.55,61.07 580.94,48.94 582.50,40.00 C583.79,32.61 584.75,25.19 587.50,20.00 C589.66,15.92 592.95,12.29 596.00,10.50 C598.37,9.11 602.21,8.36 603.50,8.80 C604.08,9.00 604.17,10.00 604.50,10.00 C604.83,10.00 604.89,9.03 605.50,8.80 C607.10,8.20 613.17,8.60 616.00,10.50 C619.18,12.64 621.09,17.59 623.00,22.00 C625.25,27.20 626.68,33.80 628.00,40.00 C629.37,46.45 630.28,53.88 631.00,60.00 C631.61,65.15 631.89,69.52 632.24,74.29 C632.59,79.05 632.85,83.81 633.09,88.57 C633.33,93.33 633.52,98.09 633.68,102.86 C633.85,107.62 633.97,112.38 634.09,117.14 C634.20,121.90 634.29,126.67 634.37,131.43 C634.45,136.19 634.46,140.95 634.57,145.71 C634.67,150.48 634.85,160.00 635.00,160.00 C635.15,160.00 635.33,150.48 635.44,145.71 C635.55,140.95 635.56,136.19 635.65,131.43 C635.74,126.67 635.83,121.90 635.96,117.14 C636.08,112.38 636.22,107.62 636.41,102.86 C636.60,98.09 636.80,93.33 637.08,88.57 C637.35,83.81 637.65,79.04 638.06,74.29 C638.46,69.52 638.93,65.64 639.50,60.00 C640.32,51.83 640.79,38.37 642.50,30.00 C643.77,23.76 644.72,17.66 647.50,14.00 C649.66,11.16 652.91,9.33 656.00,8.50 C659.08,7.67 662.75,8.86 666.00,9.00 C669.08,9.13 671.85,8.87 675.00,9.30 C678.60,9.80 682.91,10.95 686.40,12.10 C689.51,13.13 692.50,14.27 695.00,15.70 C697.18,16.95 699.03,18.33 700.70,20.00 C702.37,21.67 703.94,23.58 705.00,25.70 C706.09,27.87 706.52,30.28 707.10,32.90 C707.77,35.94 708.27,39.59 708.60,42.90 C708.92,46.15 708.94,49.36 709.07,52.59 C709.21,55.81 709.33,59.04 709.44,62.27 C709.54,65.50 709.63,68.73 709.71,71.96 C709.79,75.19 709.86,78.41 709.92,81.64 C709.99,84.87 710.04,88.10 710.08,91.33 C710.13,94.56 710.12,97.79 710.21,101.01 C710.29,104.24 710.47,110.70 710.60,110.70 C710.73,110.70 710.91,103.97 711.00,100.60 C711.09,97.23 711.08,93.87 711.14,90.50 C711.19,87.13 711.25,83.77 711.32,80.40 C711.39,77.03 711.47,73.67 711.56,70.30 C711.66,66.93 711.76,63.57 711.89,60.20 C712.01,56.83 712.15,53.47 712.32,50.10 C712.49,46.73 712.69,43.88 712.90,40.00 C713.18,34.74 713.22,26.83 713.80,21.40 C714.26,17.12 714.41,11.74 715.70,10.00 C716.29,9.20 716.97,9.03 717.90,8.90 C719.33,8.70 721.23,9.55 723.60,10.00 C727.53,10.74 734.07,11.93 739.30,12.90" fill="none" stroke="#000" stroke-width="1.7" stroke-linejoin="round"/>
<path d="M433.50,13.50 C435.77,14.87 438.14,15.89 440.30,17.60 C442.69,19.49 445.22,21.58 447.10,24.50 C449.40,28.07 450.91,33.07 452.30,38.00 C453.89,43.64 454.81,49.47 455.70,56.60 C456.89,66.09 457.55,81.78 458.00,90.00 C458.27,94.80 458.34,97.62 458.47,101.43 C458.61,105.24 458.73,109.05 458.84,112.86 C458.94,116.67 459.03,120.48 459.11,124.29 C459.19,128.10 459.26,131.90 459.32,135.71 C459.39,139.52 459.44,143.33 459.48,147.14 C459.53,150.95 459.52,154.76 459.61,158.57 C459.69,162.38 459.87,170.00 460.00,170.00 C460.13,170.00 460.31,162.38 460.40,158.57 C460.49,154.76 460.48,150.95 460.54,147.14 C460.59,143.33 460.65,139.52 460.72,135.71 C460.79,131.90 460.87,128.10 460.96,124.29 C461.06,120.48 461.16,116.67 461.29,112.86 C461.41,109.05 461.55,105.24 461.72,101.43 C461.89,97.62 462.02,94.71 462.30,90.00 C462.75,82.37 463.49,69.61 464.30,60.00 C465.05,51.10 465.79,42.19 466.90,34.30 C467.85,27.50 468.19,20.12 470.30,15.40 C471.80,12.03 473.92,9.11 476.30,7.70 C478.30,6.52 480.84,6.49 483.10,6.60 C485.40,6.71 487.24,7.56 490.00,8.40 C494.25,9.70 500.94,11.69 506.00,14.00 C510.93,16.25 515.82,19.16 520.00,22.00 C523.72,24.53 527.20,26.76 530.00,30.00 C532.91,33.38 534.95,37.48 537.00,42.00 C539.39,47.29 541.48,54.13 543.00,60.00 C544.41,65.44 545.25,70.61 546.00,76.00 C546.75,81.44 547.07,86.99 547.49,92.49 C547.90,97.98 548.21,103.47 548.49,108.97 C548.77,114.47 548.98,119.96 549.17,125.46 C549.36,130.95 549.50,136.45 549.63,141.94 C549.76,147.44 549.86,152.93 549.95,158.43 C550.03,163.92 550.05,169.42 550.16,174.91 C550.27,180.41 550.46,191.40 550.60,191.40 C550.75,191.40 550.92,179.84 551.02,174.06 C551.12,168.28 551.13,162.50 551.20,156.71 C551.27,150.93 551.35,145.15 551.45,139.37 C551.55,133.59 551.66,127.81 551.80,122.03 C551.94,116.25 552.10,110.47 552.30,104.69 C552.50,98.90 552.72,93.12 553.00,87.34 C553.29,81.56 553.70,76.57 554.00,70.00 C554.39,61.36 554.53,49.44 555.00,40.00 C555.42,31.55 555.48,21.56 556.60,16.00 C557.22,12.92 558.20,9.00 559.00,9.00 C559.80,9.00 560.77,13.23 561.40,16.00 C562.26,19.83 562.50,24.45 563.00,30.00 C563.73,38.11 564.13,50.85 565.00,60.00 C565.74,67.75 566.94,74.28 567.67,81.43 C568.40,88.56 568.91,95.71 569.37,102.86 C569.83,110.00 570.15,117.14 570.44,124.29 C570.73,131.43 570.94,138.57 571.12,145.71 C571.31,152.86 571.44,160.00 571.55,167.14 C571.67,174.29 571.70,181.43 571.83,188.57 C571.95,195.71 572.14,210.00 572.30,210.00 C572.45,210.00 572.65,196.67 572.77,190.00 C572.90,183.33 572.93,176.67 573.04,170.00 C573.16,163.33 573.29,156.67 573.47,150.00 C573.65,143.33 573.86,136.67 574.14,130.00 C574.43,123.33 574.75,116.66 575.20,110.00 C575.66,103.33 576.16,96.66 576.87,90.00 C577.59,83.32 578.65,77.35 579.50,70.00 C580.54,61.02 580.94,48.94 582.50,40.00 C583.79,32.61 584.75,25.19 587.50,20.00 C589.66,15.92 592.95,12.29 596.00,10.50 C598.37,9.11 602.21,8.36 603.50,8.80 C604.08,9.00 604.17,10.00 604.50,10.00 C604.83,10.00 604.89,9.03 605.50,8.80 C607.10,8.20 613.17,8.60 616.00,10.50 C619.18,12.64 621.09,17.59 623.00,22.00 C625.25,27.20 626.68,33.80 628.00,40.00 C629.37,46.45 630.27,54.11 631.00,60.00 C631.58,64.63 631.89,68.28 632.24,72.43 C632.59,76.57 632.85,80.71 633.09,84.86 C633.33,89.00 633.52,93.14 633.68,97.29 C633.85,101.43 633.97,105.57 634.09,109.71 C634.20,113.86 634.29,118.00 634.37,122.14 C634.45,126.29 634.46,130.43 634.57,134.57 C634.67,138.71 634.85,147.00 635.00,147.00 C635.15,147.00 635.33,138.71 635.44,134.57 C635.55,130.43 635.56,126.29 635.65,122.14 C635.74,118.00 635.83,113.86 635.96,109.71 C636.08,105.57 636.22,101.43 636.41,97.29 C636.60,93.14 636.80,89.00 637.08,84.86 C637.35,80.71 637.65,76.57 638.06,72.43 C638.46,68.28 638.95,65.04 639.50,60.00 C640.35,52.17 640.79,38.37 642.50,30.00 C643.77,23.76 644.72,17.66 647.50,14.00 C649.66,11.16 652.91,9.33 656.00,8.50 C659.08,7.67 662.75,8.86 666.00,9.00 C669.08,9.13 671.85,8.87 675.00,9.30 C678.60,9.80 682.91,10.95 686.40,12.10 C689.51,13.13 692.50,14.27 695.00,15.70 C697.18,16.95 699.03,18.33 700.70,20.00 C702.37,21.67 703.94,23.58 705.00,25.70 C706.09,27.87 706.43,30.17 707.10,32.90 C707.95,36.40 708.84,41.85 709.50,45.00 C709.92,47.03 710.30,47.80 710.60,50.00 C711.16,54.13 711.23,68.00 711.60,68.00 C712.02,68.00 712.21,51.07 713.00,45.00 C713.52,40.96 714.44,38.56 715.00,35.00 C715.64,30.96 715.92,25.76 716.50,22.00 C716.95,19.09 717.15,16.04 718.00,14.30 C718.53,13.21 719.51,11.86 720.00,12.00 C720.69,12.19 720.70,15.71 721.00,18.00 C721.39,21.03 721.63,28.60 722.00,28.60 C722.37,28.60 722.54,21.33 723.20,18.00 C723.81,14.93 723.59,10.65 725.70,9.30 C728.30,7.64 734.77,10.70 739.30,11.40" fill="none" stroke="#ff0000" stroke-width="1.7" stroke-linejoin="round"/>
<path d="M433.50,12.50 C435.77,13.73 438.13,14.64 440.30,16.20 C442.68,17.91 445.19,19.85 447.10,22.50 C449.32,25.59 450.88,29.77 452.30,34.00 C453.91,38.82 454.94,43.80 455.90,50.00 C457.20,58.40 457.82,69.99 458.50,80.00 C459.18,89.99 459.61,101.27 460.00,110.00 C460.30,116.76 460.43,128.00 460.70,128.00 C460.97,128.00 461.26,116.49 461.60,110.00 C462.01,102.35 462.43,93.33 463.00,85.00 C463.57,76.66 464.21,68.39 465.00,60.00 C465.80,51.49 466.60,42.19 467.80,34.30 C468.84,27.49 469.35,20.13 471.50,15.40 C473.03,12.04 475.15,9.06 477.50,7.70 C479.43,6.59 481.88,6.74 484.00,6.80 C486.05,6.86 487.54,7.37 490.00,8.00 C494.07,9.04 500.92,10.95 506.00,13.00 C510.91,14.98 515.85,17.34 520.00,20.00 C523.75,22.40 527.06,24.80 530.00,28.00 C533.11,31.40 535.76,35.43 538.00,40.00 C540.57,45.25 542.49,52.03 544.00,58.00 C545.44,63.69 546.31,69.40 547.00,75.00 C547.67,80.40 547.83,85.66 548.16,91.00 C548.48,96.33 548.73,101.67 548.96,107.00 C549.19,112.33 549.36,117.67 549.52,123.00 C549.68,128.33 549.80,133.67 549.91,139.00 C550.02,144.33 550.10,149.67 550.18,155.00 C550.26,160.33 550.27,165.67 550.37,171.00 C550.47,176.33 550.66,187.00 550.80,187.00 C550.94,187.00 551.12,175.86 551.22,170.29 C551.32,164.71 551.33,159.14 551.40,153.57 C551.47,148.00 551.55,142.43 551.65,136.86 C551.75,131.29 551.86,125.71 552.00,120.14 C552.14,114.57 552.30,109.00 552.50,103.43 C552.70,97.86 552.92,92.28 553.20,86.71 C553.49,81.14 553.90,76.38 554.20,70.00 C554.60,61.45 554.75,49.44 555.20,40.00 C555.60,31.55 555.63,21.56 556.70,16.00 C557.29,12.92 558.23,9.00 559.00,9.00 C559.77,9.00 560.68,13.23 561.30,16.00 C562.15,19.83 562.46,24.45 563.00,30.00 C563.79,38.11 564.28,51.08 565.20,60.00 C565.94,67.23 567.08,73.04 567.78,79.57 C568.48,86.09 568.98,92.62 569.42,99.14 C569.87,105.66 570.19,112.19 570.47,118.71 C570.76,125.24 570.95,131.76 571.14,138.29 C571.32,144.81 571.44,151.33 571.56,157.86 C571.67,164.38 571.71,170.91 571.83,177.43 C571.95,183.95 572.14,197.00 572.30,197.00 C572.45,197.00 572.65,184.91 572.77,178.86 C572.89,172.81 572.92,166.76 573.03,160.71 C573.14,154.67 573.26,148.62 573.44,142.57 C573.61,136.52 573.80,130.47 574.07,124.43 C574.34,118.38 574.64,112.33 575.06,106.29 C575.48,100.23 575.94,94.18 576.60,88.14 C577.26,82.09 578.21,76.81 579.00,70.00 C580.02,61.26 580.44,48.94 582.00,40.00 C583.29,32.61 584.37,25.30 587.00,20.00 C589.07,15.82 591.91,11.95 595.00,10.00 C597.55,8.39 602.09,7.21 603.50,8.00 C604.35,8.47 604.17,11.00 604.50,11.00 C604.83,11.00 604.60,8.54 605.50,8.00 C607.23,6.96 614.01,8.02 617.00,10.00 C620.03,12.00 621.69,16.02 623.50,20.00 C625.76,24.99 627.25,31.65 628.60,38.00 C630.08,44.92 631.05,54.40 631.80,60.00 C632.26,63.45 632.54,65.58 632.84,68.37 C633.13,71.16 633.36,73.95 633.57,76.74 C633.77,79.53 633.93,82.32 634.08,85.11 C634.22,87.90 634.34,90.69 634.44,93.49 C634.54,96.28 634.62,99.07 634.69,101.86 C634.77,104.65 634.77,107.44 634.87,110.23 C634.97,113.02 635.16,118.60 635.30,118.60 C635.44,118.60 635.63,113.02 635.73,110.23 C635.83,107.44 635.84,104.65 635.91,101.86 C635.99,99.07 636.07,96.28 636.18,93.49 C636.29,90.69 636.41,87.90 636.56,85.11 C636.71,82.32 636.88,79.53 637.10,76.74 C637.33,73.95 637.57,71.16 637.88,68.37 C638.20,65.58 638.57,63.66 639.00,60.00 C639.81,53.09 640.29,38.37 642.00,30.00 C643.27,23.76 644.22,17.43 647.00,14.00 C649.06,11.46 652.01,10.28 655.00,9.50 C658.28,8.64 662.52,9.40 666.00,9.50 C669.15,9.59 671.87,9.52 675.00,10.00 C678.51,10.54 682.55,11.69 686.00,12.80 C689.18,13.82 692.37,14.93 695.00,16.30 C697.27,17.48 699.12,19.04 701.00,20.30 C702.67,21.42 704.42,21.88 705.70,23.50 C707.40,25.65 708.41,29.34 709.30,32.90 C710.40,37.28 710.66,43.06 711.20,48.00 C711.72,52.75 712.00,57.58 712.50,62.00 C712.95,66.00 713.52,73.40 714.00,73.40 C714.52,73.39 715.04,64.92 715.50,60.00 C716.06,54.00 716.35,45.51 717.00,40.00 C717.46,36.08 718.03,33.55 718.60,30.00 C719.25,25.95 719.60,20.80 720.70,17.00 C721.62,13.83 721.92,10.09 724.30,8.60 C727.36,6.69 734.30,9.07 739.30,9.30" fill="none" stroke="#00ff00" stroke-width="1.7" stroke-linejoin="round"/>
<path d="M433.50,9.90 C435.77,10.90 438.10,11.62 440.30,12.90 C442.65,14.27 445.17,15.79 447.10,18.00 C449.26,20.49 450.82,23.78 452.30,27.40 C454.11,31.83 455.48,37.57 456.60,42.90 C457.77,48.42 458.47,54.06 459.10,60.00 C459.77,66.39 460.00,73.70 460.40,80.00 C460.76,85.63 461.05,96.00 461.40,96.00 C461.75,96.00 462.06,85.24 462.50,80.00 C462.93,74.92 463.42,70.00 464.00,65.00 C464.58,60.00 465.19,55.35 466.00,50.00 C466.94,43.80 467.85,36.19 469.40,30.00 C470.79,24.45 472.11,18.22 474.60,14.50 C476.45,11.74 478.80,9.78 481.40,8.60 C483.95,7.44 486.71,7.26 490.00,7.40 C494.53,7.59 500.92,9.35 506.00,11.00 C510.90,12.59 515.83,14.68 520.00,17.00 C523.73,19.08 526.93,21.15 530.00,24.00 C533.31,27.07 536.54,30.84 539.00,35.00 C541.62,39.44 543.38,44.56 545.00,50.00 C546.82,56.11 548.25,63.77 549.00,70.00 C549.65,75.36 549.46,80.07 549.65,85.10 C549.84,90.13 550.00,95.17 550.14,100.20 C550.28,105.23 550.39,110.27 550.49,115.30 C550.60,120.33 550.68,125.37 550.76,130.40 C550.83,135.43 550.89,140.47 550.95,145.50 C551.01,150.53 551.00,155.57 551.09,160.60 C551.19,165.63 551.36,175.70 551.50,175.70 C551.64,175.70 551.82,165.63 551.91,160.60 C552.01,155.57 552.01,150.53 552.07,145.50 C552.13,140.47 552.20,135.43 552.28,130.40 C552.37,125.37 552.46,120.33 552.58,115.30 C552.69,110.27 552.82,105.23 552.98,100.20 C553.14,95.17 553.31,90.13 553.54,85.10 C553.76,80.07 554.04,75.89 554.30,70.00 C554.66,61.70 554.92,49.54 555.40,40.00 C555.84,31.28 555.94,20.44 557.00,15.00 C557.53,12.27 558.33,9.00 559.00,9.00 C559.67,9.00 560.45,12.51 561.00,15.00 C561.85,18.84 562.17,24.13 562.70,30.00 C563.44,38.28 564.02,50.00 564.70,60.00 C565.38,70.00 565.97,81.95 566.80,90.00 C567.36,95.45 568.15,99.11 568.67,103.67 C569.19,108.22 569.56,112.78 569.90,117.34 C570.25,121.90 570.49,126.46 570.72,131.01 C570.94,135.57 571.11,140.13 571.26,144.69 C571.41,149.24 571.51,153.80 571.61,158.36 C571.71,162.91 571.73,167.47 571.85,172.03 C571.96,176.59 572.16,185.70 572.30,185.70 C572.46,185.70 572.63,174.68 572.73,169.17 C572.83,163.66 572.84,158.15 572.91,152.64 C572.99,147.13 573.07,141.62 573.18,136.11 C573.29,130.60 573.41,125.09 573.56,119.59 C573.71,114.08 573.88,108.57 574.10,103.06 C574.33,97.55 574.57,92.04 574.88,86.53 C575.20,81.02 575.58,76.32 576.00,70.00 C576.57,61.48 576.52,48.66 578.00,40.00 C579.16,33.17 580.60,27.23 583.00,22.00 C585.10,17.41 587.66,12.52 591.00,10.00 C593.85,7.85 598.74,6.85 601.00,6.80 C602.14,6.77 602.92,6.65 603.60,7.50 C605.64,10.06 604.20,32.00 604.50,32.00 C604.80,32.00 602.85,10.24 605.40,7.50 C606.51,6.31 608.38,6.83 610.00,7.00 C611.89,7.20 614.03,7.70 616.00,9.00 C618.72,10.79 621.92,14.19 624.00,18.00 C626.58,22.74 627.57,29.53 629.00,36.00 C630.64,43.39 632.08,52.34 633.00,60.00 C633.84,66.95 634.07,73.74 634.50,80.00 C634.88,85.55 635.17,95.70 635.50,95.70 C635.83,95.70 636.12,85.55 636.50,80.00 C636.93,73.74 637.36,67.34 638.00,60.00 C638.79,51.01 639.46,38.06 641.00,30.00 C642.07,24.40 642.78,19.47 645.00,16.00 C646.77,13.24 649.40,11.15 652.00,10.00 C654.43,8.92 656.91,9.06 660.00,9.00 C664.22,8.92 669.71,9.19 675.00,10.30 C681.26,11.62 690.07,14.19 695.00,17.10 C698.51,19.17 700.91,21.34 702.90,24.30 C705.03,27.46 706.02,31.50 707.10,35.70 C708.36,40.59 708.92,47.35 709.60,52.00 C710.11,55.47 710.52,58.07 710.88,61.11 C711.24,64.15 711.51,67.19 711.76,70.23 C712.01,73.26 712.19,76.30 712.36,79.34 C712.53,82.38 712.66,85.42 712.78,88.46 C712.90,91.49 712.99,94.53 713.07,97.57 C713.15,100.61 713.16,103.65 713.26,106.69 C713.37,109.72 713.56,115.80 713.70,115.80 C713.85,115.80 714.03,109.06 714.13,105.69 C714.23,102.31 714.24,98.94 714.32,95.57 C714.40,92.20 714.48,88.83 714.59,85.46 C714.70,82.09 714.82,78.71 714.98,75.34 C715.14,71.97 715.31,68.60 715.54,65.23 C715.77,61.86 716.02,58.48 716.34,55.11 C716.67,51.74 717.08,48.78 717.50,45.00 C718.04,40.19 718.45,34.22 719.30,28.60 C720.21,22.58 721.16,13.48 722.90,10.00 C723.72,8.37 724.20,7.55 725.70,6.90 C728.40,5.72 734.77,7.03 739.30,7.10" fill="none" stroke="#0000ff" stroke-width="1.7" stroke-linejoin="round"/>
<line x1="49.60" y1="246" x2="51.80" y2="246" stroke="#000" stroke-width="1.7"/>
<line x1="60.15" y1="246" x2="62.35" y2="246" stroke="#000" stroke-width="1.7"/>
<line x1="70.70" y1="246" x2="72.90" y2="246" stroke="#000" stroke-width="1.7"/>
<text x="76.8" y="249.6" font-size="10.5" textLength="44.5" lengthAdjust="spacingAndGlyphs">S11 phi=0</text>
<line x1="121.40" y1="246" x2="123.60" y2="246" stroke="#ff0000" stroke-width="1.7"/>
<line x1="131.80" y1="246" x2="134.00" y2="246" stroke="#ff0000" stroke-width="1.7"/>
<line x1="142.20" y1="246" x2="144.40" y2="246" stroke="#ff0000" stroke-width="1.7"/>
<text x="147" y="249.6" font-size="10.5" textLength="50.80000000000001" lengthAdjust="spacingAndGlyphs">S11 phi=15</text>
<line x1="197.90" y1="246" x2="200.10" y2="246" stroke="#0000ff" stroke-width="1.7"/>
<line x1="208.30" y1="246" x2="210.50" y2="246" stroke="#0000ff" stroke-width="1.7"/>
<line x1="218.70" y1="246" x2="220.90" y2="246" stroke="#0000ff" stroke-width="1.7"/>
<text x="223.5" y="249.6" font-size="10.5" textLength="50.5" lengthAdjust="spacingAndGlyphs">S11 phi=30</text>
<line x1="274.10" y1="246" x2="276.30" y2="246" stroke="#ff00ff" stroke-width="1.7"/>
<line x1="284.70" y1="246" x2="286.90" y2="246" stroke="#ff00ff" stroke-width="1.7"/>
<line x1="295.30" y1="246" x2="297.50" y2="246" stroke="#ff00ff" stroke-width="1.7"/>
<text x="299.8" y="249.6" font-size="10.5" textLength="50.19999999999999" lengthAdjust="spacingAndGlyphs">S11 phi=45</text>
<line x1="49.5" y1="259.2" x2="73" y2="259.2" stroke="#000" stroke-width="1.7"/>
<text x="76.8" y="262.4" font-size="10.5" textLength="44.5" lengthAdjust="spacingAndGlyphs">S21 phi=0</text>
<line x1="121.3" y1="259.2" x2="144.5" y2="259.2" stroke="#ff0000" stroke-width="1.7"/>
<text x="147" y="262.4" font-size="10.5" textLength="50.80000000000001" lengthAdjust="spacingAndGlyphs">S21 phi=15</text>
<line x1="197.8" y1="259.2" x2="221" y2="259.2" stroke="#00ff00" stroke-width="1.7"/>
<text x="223.5" y="262.4" font-size="10.5" textLength="50.5" lengthAdjust="spacingAndGlyphs">S21 phi=30</text>
<line x1="274" y1="259.2" x2="297.6" y2="259.2" stroke="#ff00ff" stroke-width="1.7"/>
<text x="299.8" y="262.4" font-size="10.5" textLength="50.19999999999999" lengthAdjust="spacingAndGlyphs">S21 phi=45</text>
<line x1="436.4" y1="247.3" x2="458" y2="247.3" stroke="#000" stroke-width="1.7"/>
<text x="460.7" y="250.7" font-size="10.5" textLength="49.400000000000034" lengthAdjust="spacingAndGlyphs">S21 theta=0</text>
<line x1="436.50" y1="259.1" x2="438.70" y2="259.1" stroke="#000" stroke-width="1.7"/>
<line x1="446.10" y1="259.1" x2="448.30" y2="259.1" stroke="#000" stroke-width="1.7"/>
<line x1="455.70" y1="259.1" x2="457.90" y2="259.1" stroke="#000" stroke-width="1.7"/>
<text x="460.7" y="262.7" font-size="10.5" textLength="49.400000000000034" lengthAdjust="spacingAndGlyphs">S11 theta=0</text>
<line x1="510.3" y1="247.3" x2="531.7" y2="247.3" stroke="#ff0000" stroke-width="1.7"/>
<text x="534.4" y="250.7" font-size="10.5" textLength="55.39999999999998" lengthAdjust="spacingAndGlyphs">S21 theta=15</text>
<line x1="510.40" y1="259.1" x2="512.60" y2="259.1" stroke="#ff0000" stroke-width="1.7"/>
<line x1="519.90" y1="259.1" x2="522.10" y2="259.1" stroke="#ff0000" stroke-width="1.7"/>
<line x1="529.40" y1="259.1" x2="531.60" y2="259.1" stroke="#ff0000" stroke-width="1.7"/>
<text x="534.4" y="262.7" font-size="10.5" textLength="55.39999999999998" lengthAdjust="spacingAndGlyphs">S11 theta=15</text>
<line x1="589.8" y1="247.3" x2="611.6" y2="247.3" stroke="#00ff00" stroke-width="1.7"/>
<text x="614.5" y="250.7" font-size="10.5" textLength="53.89999999999998" lengthAdjust="spacingAndGlyphs">S21 theta=30</text>
<line x1="589.90" y1="259.1" x2="592.10" y2="259.1" stroke="#00ff00" stroke-width="1.7"/>
<line x1="599.60" y1="259.1" x2="601.80" y2="259.1" stroke="#00ff00" stroke-width="1.7"/>
<line x1="609.30" y1="259.1" x2="611.50" y2="259.1" stroke="#00ff00" stroke-width="1.7"/>
<text x="614.5" y="262.7" font-size="10.5" textLength="53.89999999999998" lengthAdjust="spacingAndGlyphs">S11 theta=30</text>
<line x1="668.4" y1="247.3" x2="690.4" y2="247.3" stroke="#0000ff" stroke-width="1.7"/>
<text x="693" y="250.7" font-size="10.5" textLength="55.5" lengthAdjust="spacingAndGlyphs">S21 theta=45</text>
<line x1="668.50" y1="259.1" x2="670.70" y2="259.1" stroke="#0000ff" stroke-width="1.7"/>
<line x1="678.30" y1="259.1" x2="680.50" y2="259.1" stroke="#0000ff" stroke-width="1.7"/>
<line x1="688.10" y1="259.1" x2="690.30" y2="259.1" stroke="#0000ff" stroke-width="1.7"/>
<text x="693" y="262.7" font-size="10.5" textLength="55.5" lengthAdjust="spacingAndGlyphs">S11 theta=45</text></svg></body></html>
